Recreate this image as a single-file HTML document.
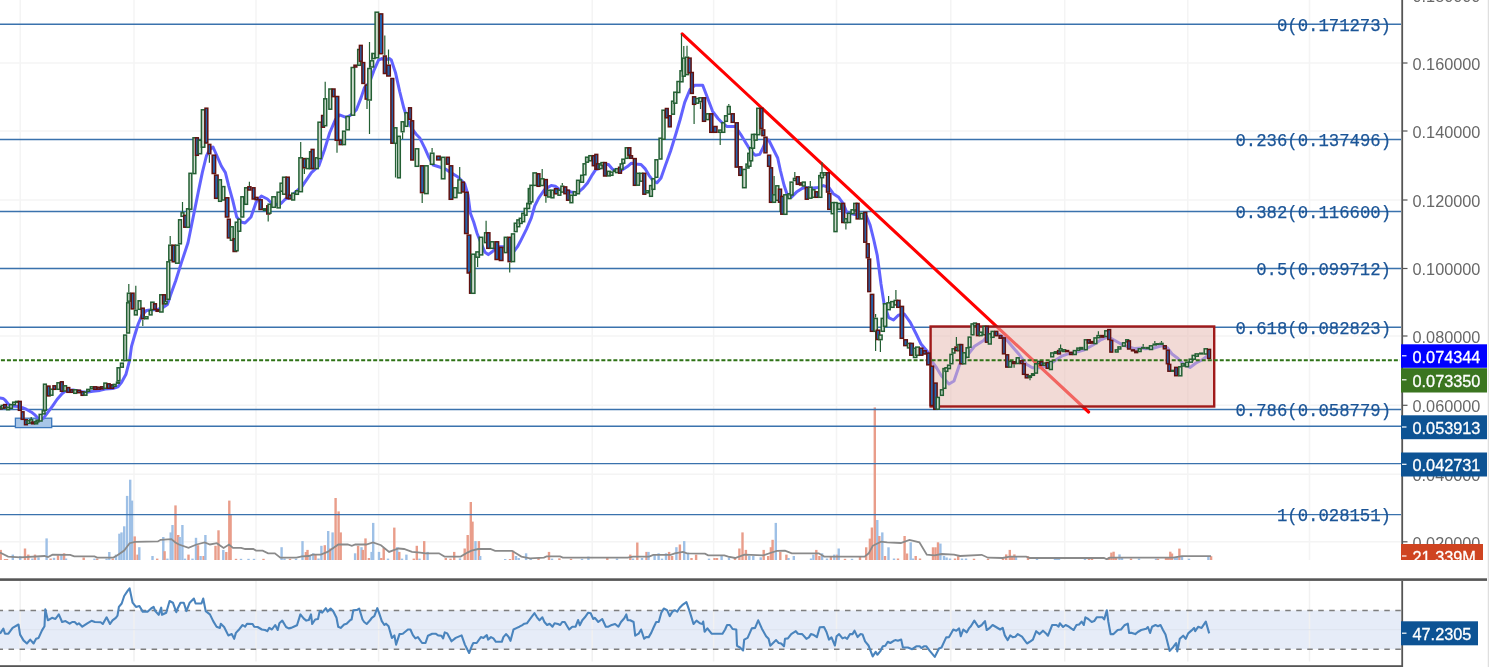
<!DOCTYPE html><html><head><meta charset="utf-8"><title>Chart</title><style>
html,body{margin:0;padding:0;background:#fff;width:1489px;height:667px;overflow:hidden}
svg{display:block;will-change:transform}
.ax{font-family:"Liberation Sans",sans-serif;font-size:16.3px;fill:#686868}
.lb{font-family:"Liberation Sans",sans-serif;font-size:16.3px;fill:#fff;stroke:#fff;stroke-width:0.3px}
.fb{font-family:"Liberation Mono",monospace;font-size:19px;fill:#1b5597;stroke:#1b5597;stroke-width:0.25px}
</style></head><body>
<svg width="1489" height="667" viewBox="0 0 1489 667">
<defs><clipPath id="mp"><rect x="0" y="0" width="1401" height="560"/></clipPath><clipPath id="rp"><rect x="0" y="581" width="1401" height="82"/></clipPath></defs>
<rect width="1489" height="667" fill="#fff"/>
<g clip-path="url(#mp)">
<line x1="20.2" y1="0" x2="20.2" y2="560" stroke="#f4f4f4" stroke-width="1.5"/>
<line x1="134" y1="0" x2="134" y2="560" stroke="#f4f4f4" stroke-width="1.5"/>
<line x1="256" y1="0" x2="256" y2="560" stroke="#f4f4f4" stroke-width="1.5"/>
<line x1="378.6" y1="0" x2="378.6" y2="560" stroke="#f4f4f4" stroke-width="1.5"/>
<line x1="592.2" y1="0" x2="592.2" y2="560" stroke="#f4f4f4" stroke-width="1.5"/>
<line x1="713.6" y1="0" x2="713.6" y2="560" stroke="#f4f4f4" stroke-width="1.5"/>
<line x1="836.5" y1="0" x2="836.5" y2="560" stroke="#f4f4f4" stroke-width="1.5"/>
<line x1="950.8" y1="0" x2="950.8" y2="560" stroke="#f4f4f4" stroke-width="1.5"/>
<line x1="1064.7" y1="0" x2="1064.7" y2="560" stroke="#f4f4f4" stroke-width="1.5"/>
<line x1="1187.8" y1="0" x2="1187.8" y2="560" stroke="#f4f4f4" stroke-width="1.5"/>
<line x1="1309.5" y1="0" x2="1309.5" y2="560" stroke="#f4f4f4" stroke-width="1.5"/>
<line x1="0" y1="63" x2="1401" y2="63" stroke="#f4f4f4" stroke-width="1.5"/>
<line x1="0" y1="131" x2="1401" y2="131" stroke="#f4f4f4" stroke-width="1.5"/>
<line x1="0" y1="200" x2="1401" y2="200" stroke="#f4f4f4" stroke-width="1.5"/>
<line x1="0" y1="268.5" x2="1401" y2="268.5" stroke="#f4f4f4" stroke-width="1.5"/>
<line x1="0" y1="336" x2="1401" y2="336" stroke="#f4f4f4" stroke-width="1.5"/>
<line x1="0" y1="405.3" x2="1401" y2="405.3" stroke="#f4f4f4" stroke-width="1.5"/>
<line x1="0" y1="474.3" x2="1401" y2="474.3" stroke="#f4f4f4" stroke-width="1.5"/>
<line x1="0" y1="541.8" x2="1401" y2="541.8" stroke="#f4f4f4" stroke-width="1.5"/>
<rect x="-0.5" y="549.9" width="2.4" height="10.1" fill="#e99d8a"/>
<rect x="3.8" y="559" width="2.4" height="1" fill="#e99d8a"/>
<rect x="5.8" y="559" width="2.4" height="1" fill="#e99d8a"/>
<rect x="11.6" y="554.6" width="2.4" height="5.4" fill="#9ec0e6"/>
<rect x="19" y="556" width="2.4" height="4" fill="#9ec0e6"/>
<rect x="23.8" y="548.5" width="2.4" height="11.5" fill="#e99d8a"/>
<rect x="27.1" y="554.6" width="2.4" height="5.4" fill="#e99d8a"/>
<rect x="31.2" y="558.5" width="2.4" height="1.5" fill="#9ec0e6"/>
<rect x="33.8" y="554.6" width="2.4" height="5.4" fill="#e99d8a"/>
<rect x="37.3" y="557.3" width="2.4" height="2.7" fill="#9ec0e6"/>
<rect x="45.4" y="538.4" width="2.4" height="21.6" fill="#9ec0e6"/>
<rect x="49.4" y="558.5" width="2.4" height="1.5" fill="#e99d8a"/>
<rect x="52.8" y="557.8" width="2.4" height="2.2" fill="#9ec0e6"/>
<rect x="56.8" y="555.3" width="2.4" height="4.7" fill="#e99d8a"/>
<rect x="60.2" y="554.6" width="2.4" height="5.4" fill="#9ec0e6"/>
<rect x="62.9" y="553.3" width="2.4" height="6.7" fill="#e99d8a"/>
<rect x="64.8" y="558.5" width="2.4" height="1.5" fill="#9ec0e6"/>
<rect x="82.5" y="557.5" width="2.4" height="2.5" fill="#e99d8a"/>
<rect x="93.3" y="558.6" width="2.4" height="1.4" fill="#9ec0e6"/>
<rect x="96" y="558.6" width="2.4" height="1.4" fill="#e99d8a"/>
<rect x="105.4" y="558.6" width="2.4" height="1.4" fill="#9ec0e6"/>
<rect x="108.1" y="552" width="2.4" height="8" fill="#9ec0e6"/>
<rect x="111.5" y="558.6" width="2.4" height="1.4" fill="#e99d8a"/>
<rect x="114.8" y="554.6" width="2.4" height="5.4" fill="#9ec0e6"/>
<rect x="118.2" y="533.7" width="2.4" height="26.3" fill="#9ec0e6"/>
<rect x="120.3" y="532.4" width="2.4" height="27.6" fill="#9ec0e6"/>
<rect x="123" y="526.3" width="2.4" height="33.7" fill="#9ec0e6"/>
<rect x="125.9" y="495.9" width="2.4" height="64.1" fill="#9ec0e6"/>
<rect x="129" y="479.7" width="2.4" height="80.3" fill="#9ec0e6"/>
<rect x="130.8" y="500.6" width="2.4" height="59.4" fill="#9ec0e6"/>
<rect x="133.5" y="536.4" width="2.4" height="23.6" fill="#e99d8a"/>
<rect x="136.4" y="554.6" width="2.4" height="5.4" fill="#e99d8a"/>
<rect x="138.1" y="547.2" width="2.4" height="12.8" fill="#9ec0e6"/>
<rect x="151.3" y="556" width="2.4" height="4" fill="#9ec0e6"/>
<rect x="156" y="558.6" width="2.4" height="1.4" fill="#e99d8a"/>
<rect x="162.1" y="537" width="2.4" height="23" fill="#9ec0e6"/>
<rect x="163.4" y="551.2" width="2.4" height="8.8" fill="#e99d8a"/>
<rect x="166.2" y="558.6" width="2.4" height="1.4" fill="#9ec0e6"/>
<rect x="169.5" y="532.4" width="2.4" height="27.6" fill="#9ec0e6"/>
<rect x="171.3" y="525" width="2.4" height="35" fill="#9ec0e6"/>
<rect x="174.3" y="505.4" width="2.4" height="54.6" fill="#e99d8a"/>
<rect x="177" y="535" width="2.4" height="25" fill="#e99d8a"/>
<rect x="178.5" y="537" width="2.4" height="23" fill="#9ec0e6"/>
<rect x="181.2" y="525" width="2.4" height="35" fill="#9ec0e6"/>
<rect x="183.8" y="558.6" width="2.4" height="1.4" fill="#9ec0e6"/>
<rect x="187.3" y="554.6" width="2.4" height="5.4" fill="#e99d8a"/>
<rect x="191.3" y="558.6" width="2.4" height="1.4" fill="#9ec0e6"/>
<rect x="194.8" y="537.8" width="2.4" height="22.2" fill="#9ec0e6"/>
<rect x="196.8" y="545.2" width="2.4" height="14.8" fill="#e99d8a"/>
<rect x="199.4" y="556" width="2.4" height="4" fill="#9ec0e6"/>
<rect x="202.4" y="556" width="2.4" height="4" fill="#e99d8a"/>
<rect x="204.2" y="535" width="2.4" height="25" fill="#9ec0e6"/>
<rect x="214.3" y="545.8" width="2.4" height="14.2" fill="#e99d8a"/>
<rect x="217.3" y="530.3" width="2.4" height="29.7" fill="#e99d8a"/>
<rect x="222.1" y="549.9" width="2.4" height="10.1" fill="#9ec0e6"/>
<rect x="225.1" y="552" width="2.4" height="8" fill="#e99d8a"/>
<rect x="228.1" y="500.6" width="2.4" height="59.4" fill="#e99d8a"/>
<rect x="229.4" y="514.1" width="2.4" height="45.9" fill="#e99d8a"/>
<rect x="234.8" y="558.8" width="2.4" height="1.2" fill="#e99d8a"/>
<rect x="239.8" y="558.8" width="2.4" height="1.2" fill="#9ec0e6"/>
<rect x="247.3" y="558.8" width="2.4" height="1.2" fill="#9ec0e6"/>
<rect x="252.8" y="558.8" width="2.4" height="1.2" fill="#9ec0e6"/>
<rect x="262.3" y="558.8" width="2.4" height="1.2" fill="#e99d8a"/>
<rect x="280.4" y="547.2" width="2.4" height="12.8" fill="#9ec0e6"/>
<rect x="283.3" y="558.5" width="2.4" height="1.5" fill="#9ec0e6"/>
<rect x="288.8" y="558.8" width="2.4" height="1.2" fill="#e99d8a"/>
<rect x="294.8" y="558.8" width="2.4" height="1.2" fill="#9ec0e6"/>
<rect x="301.3" y="541.1" width="2.4" height="18.9" fill="#9ec0e6"/>
<rect x="304.7" y="552" width="2.4" height="8" fill="#e99d8a"/>
<rect x="306.3" y="549.9" width="2.4" height="10.1" fill="#e99d8a"/>
<rect x="308.8" y="556" width="2.4" height="4" fill="#9ec0e6"/>
<rect x="312.1" y="553.3" width="2.4" height="6.7" fill="#9ec0e6"/>
<rect x="314.3" y="554.6" width="2.4" height="5.4" fill="#e99d8a"/>
<rect x="317.3" y="558.5" width="2.4" height="1.5" fill="#9ec0e6"/>
<rect x="320.2" y="545.8" width="2.4" height="14.2" fill="#9ec0e6"/>
<rect x="323.6" y="545.2" width="2.4" height="14.8" fill="#e99d8a"/>
<rect x="327" y="531" width="2.4" height="29" fill="#9ec0e6"/>
<rect x="329" y="548.5" width="2.4" height="11.5" fill="#e99d8a"/>
<rect x="331.4" y="532.4" width="2.4" height="27.6" fill="#9ec0e6"/>
<rect x="334.4" y="498" width="2.4" height="62" fill="#e99d8a"/>
<rect x="337.4" y="511.4" width="2.4" height="48.6" fill="#e99d8a"/>
<rect x="339.5" y="532.4" width="2.4" height="27.6" fill="#e99d8a"/>
<rect x="353.9" y="553.3" width="2.4" height="6.7" fill="#9ec0e6"/>
<rect x="356.9" y="545.8" width="2.4" height="14.2" fill="#e99d8a"/>
<rect x="360.3" y="547.2" width="2.4" height="12.8" fill="#9ec0e6"/>
<rect x="361.6" y="549.9" width="2.4" height="10.1" fill="#e99d8a"/>
<rect x="364.3" y="538.4" width="2.4" height="21.6" fill="#e99d8a"/>
<rect x="367.7" y="558" width="2.4" height="2" fill="#e99d8a"/>
<rect x="370.4" y="551.9" width="2.4" height="8.1" fill="#9ec0e6"/>
<rect x="372" y="522.9" width="2.4" height="37.1" fill="#9ec0e6"/>
<rect x="377.8" y="551.9" width="2.4" height="8.1" fill="#9ec0e6"/>
<rect x="380.1" y="558" width="2.4" height="2" fill="#e99d8a"/>
<rect x="382.5" y="547.9" width="2.4" height="12.1" fill="#e99d8a"/>
<rect x="386.8" y="558.6" width="2.4" height="1.4" fill="#9ec0e6"/>
<rect x="393.1" y="527.6" width="2.4" height="32.4" fill="#e99d8a"/>
<rect x="396" y="547.2" width="2.4" height="12.8" fill="#9ec0e6"/>
<rect x="398.1" y="551.9" width="2.4" height="8.1" fill="#e99d8a"/>
<rect x="400.8" y="558.6" width="2.4" height="1.4" fill="#9ec0e6"/>
<rect x="405.2" y="554.6" width="2.4" height="5.4" fill="#9ec0e6"/>
<rect x="412.6" y="558.6" width="2.4" height="1.4" fill="#e99d8a"/>
<rect x="415.6" y="545.8" width="2.4" height="14.2" fill="#e99d8a"/>
<rect x="418.3" y="558.6" width="2.4" height="1.4" fill="#9ec0e6"/>
<rect x="423" y="541.1" width="2.4" height="18.9" fill="#e99d8a"/>
<rect x="426.4" y="551.9" width="2.4" height="8.1" fill="#9ec0e6"/>
<rect x="444.6" y="558" width="2.4" height="2" fill="#e99d8a"/>
<rect x="449.3" y="558.6" width="2.4" height="1.4" fill="#e99d8a"/>
<rect x="453" y="551.9" width="2.4" height="8.1" fill="#e99d8a"/>
<rect x="458.8" y="558.3" width="2.4" height="1.7" fill="#9ec0e6"/>
<rect x="463.5" y="548.5" width="2.4" height="11.5" fill="#e99d8a"/>
<rect x="466.5" y="535" width="2.4" height="25" fill="#e99d8a"/>
<rect x="469.6" y="502" width="2.4" height="58" fill="#e99d8a"/>
<rect x="471.3" y="521.6" width="2.4" height="38.4" fill="#e99d8a"/>
<rect x="474.3" y="541.1" width="2.4" height="18.9" fill="#9ec0e6"/>
<rect x="477.7" y="541.1" width="2.4" height="18.9" fill="#e99d8a"/>
<rect x="479" y="556" width="2.4" height="4" fill="#9ec0e6"/>
<rect x="504" y="559" width="2.4" height="1" fill="#9ec0e6"/>
<rect x="508.8" y="559" width="2.4" height="1" fill="#e99d8a"/>
<rect x="511.8" y="550.6" width="2.4" height="9.4" fill="#e99d8a"/>
<rect x="514.8" y="556" width="2.4" height="4" fill="#9ec0e6"/>
<rect x="517.5" y="558" width="2.4" height="2" fill="#9ec0e6"/>
<rect x="524.9" y="553.3" width="2.4" height="6.7" fill="#9ec0e6"/>
<rect x="529.5" y="558.6" width="2.4" height="1.4" fill="#9ec0e6"/>
<rect x="537.3" y="558" width="2.4" height="2" fill="#e99d8a"/>
<rect x="547.8" y="551.9" width="2.4" height="8.1" fill="#e99d8a"/>
<rect x="550.8" y="558.6" width="2.4" height="1.4" fill="#9ec0e6"/>
<rect x="558.2" y="558.3" width="2.4" height="1.7" fill="#e99d8a"/>
<rect x="569.8" y="558.8" width="2.4" height="1.2" fill="#e99d8a"/>
<rect x="580.8" y="558.8" width="2.4" height="1.2" fill="#9ec0e6"/>
<rect x="587.2" y="556.6" width="2.4" height="3.4" fill="#9ec0e6"/>
<rect x="606.1" y="558" width="2.4" height="2" fill="#e99d8a"/>
<rect x="615.8" y="558.5" width="2.4" height="1.5" fill="#9ec0e6"/>
<rect x="629.1" y="554.6" width="2.4" height="5.4" fill="#e99d8a"/>
<rect x="631.8" y="558.5" width="2.4" height="1.5" fill="#9ec0e6"/>
<rect x="636.1" y="542.5" width="2.4" height="17.5" fill="#e99d8a"/>
<rect x="640.8" y="558" width="2.4" height="2" fill="#9ec0e6"/>
<rect x="645.3" y="551.9" width="2.4" height="8.1" fill="#e99d8a"/>
<rect x="647.3" y="551.9" width="2.4" height="8.1" fill="#9ec0e6"/>
<rect x="653.4" y="554.6" width="2.4" height="5.4" fill="#9ec0e6"/>
<rect x="657.4" y="553.3" width="2.4" height="6.7" fill="#9ec0e6"/>
<rect x="660.8" y="558.6" width="2.4" height="1.4" fill="#9ec0e6"/>
<rect x="664.8" y="553.3" width="2.4" height="6.7" fill="#9ec0e6"/>
<rect x="667.9" y="551.9" width="2.4" height="8.1" fill="#e99d8a"/>
<rect x="670.9" y="556" width="2.4" height="4" fill="#e99d8a"/>
<rect x="675.2" y="547.2" width="2.4" height="12.8" fill="#9ec0e6"/>
<rect x="678.7" y="544.5" width="2.4" height="15.5" fill="#e99d8a"/>
<rect x="683" y="541.1" width="2.4" height="18.9" fill="#9ec0e6"/>
<rect x="686.8" y="552.6" width="2.4" height="7.4" fill="#9ec0e6"/>
<rect x="690.3" y="558" width="2.4" height="2" fill="#e99d8a"/>
<rect x="694.9" y="554.6" width="2.4" height="5.4" fill="#e99d8a"/>
<rect x="707.8" y="558.6" width="2.4" height="1.4" fill="#9ec0e6"/>
<rect x="713.3" y="558" width="2.4" height="2" fill="#e99d8a"/>
<rect x="715.8" y="558" width="2.4" height="2" fill="#e99d8a"/>
<rect x="720.4" y="556" width="2.4" height="4" fill="#9ec0e6"/>
<rect x="727.8" y="557.3" width="2.4" height="2.7" fill="#9ec0e6"/>
<rect x="733.8" y="557.3" width="2.4" height="2.7" fill="#e99d8a"/>
<rect x="738.2" y="548.5" width="2.4" height="11.5" fill="#e99d8a"/>
<rect x="741.3" y="532.4" width="2.4" height="27.6" fill="#e99d8a"/>
<rect x="744.7" y="549.9" width="2.4" height="10.1" fill="#e99d8a"/>
<rect x="748.1" y="556" width="2.4" height="4" fill="#9ec0e6"/>
<rect x="752.1" y="556" width="2.4" height="4" fill="#9ec0e6"/>
<rect x="759.5" y="557.3" width="2.4" height="2.7" fill="#9ec0e6"/>
<rect x="762.5" y="549.9" width="2.4" height="10.1" fill="#e99d8a"/>
<rect x="767" y="556" width="2.4" height="4" fill="#e99d8a"/>
<rect x="769.7" y="547.2" width="2.4" height="12.8" fill="#e99d8a"/>
<rect x="771.4" y="539.8" width="2.4" height="20.2" fill="#e99d8a"/>
<rect x="774.6" y="522.9" width="2.4" height="37.1" fill="#9ec0e6"/>
<rect x="779.1" y="551.9" width="2.4" height="8.1" fill="#e99d8a"/>
<rect x="785.2" y="554.6" width="2.4" height="5.4" fill="#e99d8a"/>
<rect x="787.3" y="558" width="2.4" height="2" fill="#9ec0e6"/>
<rect x="792.6" y="556" width="2.4" height="4" fill="#9ec0e6"/>
<rect x="809.8" y="558.5" width="2.4" height="1.5" fill="#9ec0e6"/>
<rect x="812.2" y="554.6" width="2.4" height="5.4" fill="#9ec0e6"/>
<rect x="815.1" y="549.9" width="2.4" height="10.1" fill="#e99d8a"/>
<rect x="818.2" y="556" width="2.4" height="4" fill="#e99d8a"/>
<rect x="820.9" y="553.3" width="2.4" height="6.7" fill="#9ec0e6"/>
<rect x="825.8" y="558.5" width="2.4" height="1.5" fill="#9ec0e6"/>
<rect x="829.7" y="556" width="2.4" height="4" fill="#e99d8a"/>
<rect x="833.1" y="554.6" width="2.4" height="5.4" fill="#9ec0e6"/>
<rect x="836.2" y="554.6" width="2.4" height="5.4" fill="#e99d8a"/>
<rect x="837.5" y="548.5" width="2.4" height="11.5" fill="#9ec0e6"/>
<rect x="843.8" y="558.8" width="2.4" height="1.2" fill="#e99d8a"/>
<rect x="850.8" y="558.8" width="2.4" height="1.2" fill="#9ec0e6"/>
<rect x="858.8" y="556" width="2.4" height="4" fill="#e99d8a"/>
<rect x="865" y="547.3" width="2.4" height="12.7" fill="#e99d8a"/>
<rect x="868.7" y="538.6" width="2.4" height="21.4" fill="#e99d8a"/>
<rect x="870.7" y="527.5" width="2.4" height="32.5" fill="#e99d8a"/>
<rect x="873.6" y="407.4" width="2.4" height="152.6" fill="#e99d8a"/>
<rect x="876.1" y="520" width="2.4" height="40" fill="#9ec0e6"/>
<rect x="878.1" y="536" width="2.4" height="24" fill="#e99d8a"/>
<rect x="881.1" y="532.4" width="2.4" height="27.6" fill="#9ec0e6"/>
<rect x="883.8" y="556" width="2.4" height="4" fill="#e99d8a"/>
<rect x="887.3" y="547.3" width="2.4" height="12.7" fill="#9ec0e6"/>
<rect x="892.8" y="558.5" width="2.4" height="1.5" fill="#9ec0e6"/>
<rect x="896.8" y="558.5" width="2.4" height="1.5" fill="#e99d8a"/>
<rect x="903.4" y="536" width="2.4" height="24" fill="#e99d8a"/>
<rect x="905.8" y="553.5" width="2.4" height="6.5" fill="#e99d8a"/>
<rect x="909.5" y="542.3" width="2.4" height="17.7" fill="#9ec0e6"/>
<rect x="911.8" y="558.5" width="2.4" height="1.5" fill="#9ec0e6"/>
<rect x="914.5" y="556" width="2.4" height="4" fill="#e99d8a"/>
<rect x="918.8" y="558.5" width="2.4" height="1.5" fill="#e99d8a"/>
<rect x="931.8" y="547.3" width="2.4" height="12.7" fill="#e99d8a"/>
<rect x="934.3" y="547.3" width="2.4" height="12.7" fill="#e99d8a"/>
<rect x="936.8" y="542.3" width="2.4" height="17.7" fill="#e99d8a"/>
<rect x="939.2" y="543.6" width="2.4" height="16.4" fill="#9ec0e6"/>
<rect x="942.8" y="556" width="2.4" height="4" fill="#9ec0e6"/>
<rect x="945.4" y="557.5" width="2.4" height="2.5" fill="#9ec0e6"/>
<rect x="948.8" y="558.5" width="2.4" height="1.5" fill="#9ec0e6"/>
<rect x="953.8" y="558.5" width="2.4" height="1.5" fill="#e99d8a"/>
<rect x="957" y="556.2" width="2.4" height="3.8" fill="#e99d8a"/>
<rect x="960.8" y="558.5" width="2.4" height="1.5" fill="#9ec0e6"/>
<rect x="964.8" y="558.5" width="2.4" height="1.5" fill="#9ec0e6"/>
<rect x="972.8" y="558.7" width="2.4" height="1.3" fill="#e99d8a"/>
<rect x="986.8" y="558.7" width="2.4" height="1.3" fill="#e99d8a"/>
<rect x="1001.8" y="558.5" width="2.4" height="1.5" fill="#e99d8a"/>
<rect x="1005" y="554.4" width="2.4" height="5.6" fill="#e99d8a"/>
<rect x="1008.6" y="549.9" width="2.4" height="10.1" fill="#e99d8a"/>
<rect x="1010.8" y="556" width="2.4" height="4" fill="#e99d8a"/>
<rect x="1013.2" y="554.4" width="2.4" height="5.6" fill="#e99d8a"/>
<rect x="1014.8" y="556.5" width="2.4" height="3.5" fill="#9ec0e6"/>
<rect x="1026.8" y="556.2" width="2.4" height="3.8" fill="#e99d8a"/>
<rect x="1035.8" y="558.7" width="2.4" height="1.3" fill="#9ec0e6"/>
<rect x="1053.8" y="558" width="2.4" height="2" fill="#9ec0e6"/>
<rect x="1055.8" y="557.5" width="2.4" height="2.5" fill="#9ec0e6"/>
<rect x="1057.8" y="558" width="2.4" height="2" fill="#9ec0e6"/>
<rect x="1083.8" y="558.7" width="2.4" height="1.3" fill="#9ec0e6"/>
<rect x="1087.8" y="558.7" width="2.4" height="1.3" fill="#e99d8a"/>
<rect x="1090.8" y="558.5" width="2.4" height="1.5" fill="#e99d8a"/>
<rect x="1107.8" y="557" width="2.4" height="3" fill="#e99d8a"/>
<rect x="1110.2" y="552.6" width="2.4" height="7.4" fill="#e99d8a"/>
<rect x="1112.4" y="551.7" width="2.4" height="8.3" fill="#e99d8a"/>
<rect x="1114.8" y="557" width="2.4" height="3" fill="#e99d8a"/>
<rect x="1118.3" y="554.4" width="2.4" height="5.6" fill="#9ec0e6"/>
<rect x="1120.8" y="557.5" width="2.4" height="2.5" fill="#9ec0e6"/>
<rect x="1129.8" y="558.5" width="2.4" height="1.5" fill="#e99d8a"/>
<rect x="1137.8" y="558.5" width="2.4" height="1.5" fill="#9ec0e6"/>
<rect x="1154.8" y="558.7" width="2.4" height="1.3" fill="#9ec0e6"/>
<rect x="1156.8" y="558.7" width="2.4" height="1.3" fill="#e99d8a"/>
<rect x="1164.8" y="558" width="2.4" height="2" fill="#e99d8a"/>
<rect x="1166.8" y="557.5" width="2.4" height="2.5" fill="#e99d8a"/>
<rect x="1169.1" y="551.7" width="2.4" height="8.3" fill="#e99d8a"/>
<rect x="1170.8" y="553.5" width="2.4" height="6.5" fill="#e99d8a"/>
<rect x="1173.8" y="557.5" width="2.4" height="2.5" fill="#9ec0e6"/>
<rect x="1175.8" y="557" width="2.4" height="3" fill="#9ec0e6"/>
<rect x="1178.2" y="548.6" width="2.4" height="11.4" fill="#e99d8a"/>
<rect x="1180.8" y="557" width="2.4" height="3" fill="#9ec0e6"/>
<rect x="1187.8" y="558.7" width="2.4" height="1.3" fill="#9ec0e6"/>
<rect x="1207.2" y="556.2" width="2.4" height="3.8" fill="#9ec0e6"/>
<rect x="1209.9" y="556.2" width="2.4" height="3.8" fill="#e99d8a"/>
<polyline points="0,552.6 8.1,556.6 20.2,557.3 44.5,556 48,557 52.6,554.6 70.2,554.9 74.2,556.4 94.5,556.4 97.2,557.6 113.4,557.6 117.4,555.3 124.2,550.6 129.6,543.2 135,541.8 157.9,541.4 160.6,539.8 171.4,539.1 175.4,542.5 179,544.5 188.5,547.9 196.6,544.5 204.7,542.5 210,544.5 216.8,543.2 223.6,547.9 229,544.5 233,547.9 241.1,547.9 245.2,549 253.3,549 256,550.6 262.7,550.6 268.1,553.3 274.9,553.3 280.3,557.6 296.5,557.6 301.9,556.4 308.6,556 312.6,554.6 320.8,554.6 327.5,551.9 331.5,549.2 338.3,544.5 347.7,544.5 351.8,545.8 355.4,544.5 366.2,544.5 373,542.5 381,545.2 389.1,551.9 394.5,549.9 398.6,548.5 404,549 412,551.9 420.2,552.6 425.6,553.3 439,553.3 444.5,556.6 460.7,556.6 467.4,552.6 471.5,550.6 478.2,549 490.4,549 495.1,550.8 512,550.8 521.4,556.6 530,558.4 543.9,557.6 546.6,556.4 560.1,556.4 562.8,557.6 627.6,557.6 633,556.6 649.2,556.6 653.2,554.9 670.7,554.9 674.8,553.3 682.9,551.9 687,553.3 705,553.7 708.1,555.3 724.3,555.3 728.3,556.6 735.1,558 744.5,554.6 763.4,555.3 770.2,553 776.9,550.8 785,550.6 791.8,553.3 818.8,553.3 824.2,556.6 864.6,556.6 868.7,553.3 872.7,545.8 881,541.6 887.2,542.3 900.8,543 909.5,539.9 919.4,542.3 926.8,554.7 934.3,555.4 941.7,554 954,554.7 960,556 981.7,554.8 988,557.7 1002.6,558 1009.8,556.6 1026.2,556.6 1029.8,558 1104,558 1106.8,559.3 1109.6,557.7 1173,557.7 1182,556.2 1211,556.2" fill="none" stroke="#8a8a8a" stroke-width="1.8"/>
<line x1="0" y1="24.3" x2="1401" y2="24.3" stroke="#3a72ad" stroke-width="1.4"/>
<line x1="0" y1="139.5" x2="1401" y2="139.5" stroke="#3a72ad" stroke-width="1.4"/>
<line x1="0" y1="211.5" x2="1401" y2="211.5" stroke="#3a72ad" stroke-width="1.4"/>
<line x1="0" y1="268.5" x2="1401" y2="268.5" stroke="#3a72ad" stroke-width="1.4"/>
<line x1="0" y1="327.2" x2="1401" y2="327.2" stroke="#3a72ad" stroke-width="1.4"/>
<line x1="0" y1="409.5" x2="1401" y2="409.5" stroke="#3a72ad" stroke-width="1.4"/>
<line x1="0" y1="426.3" x2="1401" y2="426.3" stroke="#3a72ad" stroke-width="1.4"/>
<line x1="0" y1="463.6" x2="1401" y2="463.6" stroke="#3a72ad" stroke-width="1.4"/>
<line x1="0" y1="514.6" x2="1401" y2="514.6" stroke="#3a72ad" stroke-width="1.4"/>
<rect x="15.4" y="418.2" width="36.3" height="9.4" fill="#a8c6e8" stroke="#3d78bd" stroke-width="1.3"/>
<polyline points="0,398 3,398.4 5.2,400.2 8.2,404 11.2,405.9 15,406.2 18.7,406.6 22.5,407.7 26.2,409.2 31.5,412.2 35.2,415.2 38.2,418.2 40.5,419.7 43.5,418.2 48,412.2 52.5,406.2 57,399.5 62.2,393.5 66,390.5 73,390 82,391.8 86.5,392.2 92.8,391.3 100,390.4 105.4,389 112.6,388.6 118,386.8 121.6,382.3 126,374.2 129.7,359.8 131.5,346.4 134.5,336 138.2,324 142,315 146.5,310.4 151.7,309.7 157,309.7 163,307.5 167.4,304.5 170.4,295.5 175.7,280.8 181.4,262.6 188,242.8 193,218 198.2,192.4 202.3,172.6 206.4,156 209.7,149.5 213,147 217,156 221.3,166 225.4,172.6 228.7,185.8 232.8,200.7 236.7,217 241,222 245,223 251,217 256.2,202 261.4,196 267.4,199 273.4,205 281,203.5 285.4,199 290,197.5 293.3,194 302.4,185.8 311.4,172.6 318.8,166 324.6,149.5 329.6,133 335.3,119.8 339.5,114.9 346,117.3 350,115.7 356.3,110 361.2,97.4 364.5,87.5 369.5,82.5 374.4,69.3 378.5,60.2 381.8,58.6 385.1,60.2 389.3,58.5 391.3,60 395.5,72.6 399.7,91.5 403.9,108.3 408,121 412.3,129.3 416.4,134.5 419.6,137.7 424.8,148.2 429,157.6 433.2,165 439.5,167 445.8,169.2 452,173.4 458,177 464.7,183.7 468,195 470.3,213 473.7,222 477,233.2 481.6,244.4 485,252.3 488.3,254.6 492.8,251.2 498.4,246.7 504,246.7 508.5,249 514.2,251.2 517.5,246.7 519.9,242.3 526.5,229.1 531.4,217.6 534.7,206 538.8,197.8 544.6,189.5 551.2,185.4 555.3,186.2 559.4,189.5 566,190.3 571,192 577.6,192.8 582.5,188.7 587.5,182.9 592.4,174.6 595.7,169.7 599,168.6 603,164.5 608.5,164.5 612.5,169.3 616.6,170.6 622,170 627.4,166.6 631.4,163.2 635.5,163.9 641,164.5 645,168.6 649,175.3 653,180.7 657,182.8 661,178 665.2,165.9 670.6,151 676,133.5 680,120 684.7,102.3 690,89.7 694.6,85.3 702.7,85.3 707.2,97 712.6,111.3 718,118.5 723.3,124 727,126.6 735.4,126.5 740.8,134.6 746.2,143.6 750.7,150.8 755.2,155.3 759.7,154.4 763.3,147.2 766,140 768.7,140 773.2,149 777.7,158 780.4,170.5 784,185 787.6,195.7 791.2,197.5 796.5,192.1 802,188.5 805.4,187.4 810.8,188.3 818,187.4 823.4,185.6 828.8,187.4 833.3,193.7 838.7,197.3 843.2,203.6 846.8,212.6 854,214.4 861.2,214.4 866.5,216.2 870.1,225.1 873.7,239.5 877.3,255.7 879.2,270 881,284 884,303.2 888.7,317.6 893.5,320 898.3,315.2 904.3,314 910.3,322.4 916.3,334.3 921,344 927,351 931.6,361 936.7,368 941.5,376 949,384 954,381 959.6,364.5 968,354.5 974.5,346.3 983.6,340.5 987.7,335.6 994.3,333 1000,335 1006,339 1012,346.2 1019.2,354.6 1026.4,364.2 1032.4,367.8 1039.6,367.8 1048,365.4 1055,360.6 1062.4,355.8 1069.5,353.4 1075,352.5 1084.6,349.8 1093,345 1100.2,340.2 1107.4,337.2 1112.2,339 1120.6,343.8 1127.8,346.8 1135,348.6 1142,348 1145,348.7 1154,348 1161.5,345.7 1167.5,348 1172,354 1178,358.5 1184,364.5 1190,367.5 1196,363 1202,360 1208,355.5" fill="none" stroke="#6262ff" stroke-width="3" stroke-linejoin="round" stroke-linecap="round"/>
<line x1="682.2" y1="33.9" x2="1088.6" y2="412" stroke="#ff0000" stroke-width="3.1" stroke-linecap="round"/>
<rect x="930.6" y="326.5" width="283.6" height="80" fill="rgba(231,186,179,0.54)" stroke="#a01a1a" stroke-width="2.4"/>
<line x1="0" y1="360.2" x2="1400" y2="360.2" stroke="#2e7216" stroke-width="2" stroke-dasharray="4,2.004" stroke-dashoffset="5.064"/>
<rect x="-0.8" y="406.8" width="2.8" height="2.1" fill="#2464b0" stroke="#621210" stroke-width="1.5"/>
<rect x="1.2" y="405.4" width="2.8" height="2.8" fill="#cfdccf" stroke="#235f33" stroke-width="1.5"/>
<rect x="3.6" y="404.6" width="2.8" height="3.4" fill="#2464b0" stroke="#621210" stroke-width="1.5"/>
<rect x="6.7" y="407.2" width="2.8" height="2.5" fill="#cfdccf" stroke="#235f33" stroke-width="1.5"/>
<rect x="9.6" y="404.6" width="2.8" height="3.7" fill="#cfdccf" stroke="#235f33" stroke-width="1.5"/>
<rect x="12.7" y="402.2" width="2.8" height="2.5" fill="#cfdccf" stroke="#235f33" stroke-width="1.5"/>
<rect x="15.6" y="401.4" width="2.8" height="0.8" fill="#cfdccf" stroke="#235f33" stroke-width="1.5"/>
<rect x="18.4" y="401.4" width="2.8" height="8.9" fill="#2464b0" stroke="#621210" stroke-width="1.5"/>
<rect x="21.2" y="411.8" width="2.8" height="7.5" fill="#2464b0" stroke="#621210" stroke-width="1.5"/>
<rect x="24.5" y="419.8" width="2.8" height="4.9" fill="#2464b0" stroke="#621210" stroke-width="1.5"/>
<rect x="27.1" y="420.8" width="2.8" height="2.5" fill="#cfdccf" stroke="#235f33" stroke-width="1.5"/>
<line x1="31.2" y1="417" x2="31.2" y2="419" stroke="#235f33" stroke-width="1.2"/>
<rect x="29.8" y="419.8" width="2.8" height="3.1" fill="#cfdccf" stroke="#235f33" stroke-width="1.5"/>
<rect x="31.6" y="422.1" width="2.8" height="1.7" fill="#2464b0" stroke="#621210" stroke-width="1.5"/>
<rect x="34.8" y="421.8" width="2.8" height="2" fill="#cfdccf" stroke="#235f33" stroke-width="1.5"/>
<rect x="36.1" y="420.2" width="2.8" height="1.7" fill="#cfdccf" stroke="#235f33" stroke-width="1.5"/>
<rect x="39.2" y="414.4" width="2.8" height="6.6" fill="#cfdccf" stroke="#235f33" stroke-width="1.5"/>
<rect x="42.2" y="410.8" width="2.8" height="3.1" fill="#cfdccf" stroke="#235f33" stroke-width="1.5"/>
<rect x="43.5" y="384.2" width="2.8" height="26" fill="#cfdccf" stroke="#235f33" stroke-width="1.5"/>
<rect x="47.2" y="386.1" width="2.8" height="9.8" fill="#2464b0" stroke="#621210" stroke-width="1.5"/>
<rect x="50.1" y="389.2" width="2.8" height="6" fill="#cfdccf" stroke="#235f33" stroke-width="1.5"/>
<rect x="53" y="385.8" width="2.8" height="3.5" fill="#2464b0" stroke="#621210" stroke-width="1.5"/>
<rect x="57" y="382.8" width="2.8" height="6.5" fill="#cfdccf" stroke="#235f33" stroke-width="1.5"/>
<rect x="60.4" y="381.8" width="2.8" height="9.5" fill="#2464b0" stroke="#621210" stroke-width="1.5"/>
<rect x="63.7" y="385.8" width="2.8" height="5.2" fill="#cfdccf" stroke="#235f33" stroke-width="1.5"/>
<rect x="66.9" y="387.6" width="2.8" height="4.7" fill="#2464b0" stroke="#621210" stroke-width="1.5"/>
<rect x="70.3" y="389.8" width="2.8" height="2.5" fill="#2464b0" stroke="#621210" stroke-width="1.5"/>
<rect x="73.8" y="389.8" width="2.8" height="3.5" fill="#cfdccf" stroke="#235f33" stroke-width="1.5"/>
<rect x="77.6" y="390.2" width="2.8" height="2.5" fill="#2464b0" stroke="#621210" stroke-width="1.5"/>
<rect x="81.1" y="391.8" width="2.8" height="3.5" fill="#2464b0" stroke="#621210" stroke-width="1.5"/>
<rect x="84.1" y="392.2" width="2.8" height="3" fill="#cfdccf" stroke="#235f33" stroke-width="1.5"/>
<rect x="86.8" y="389.4" width="2.8" height="1.9" fill="#cfdccf" stroke="#235f33" stroke-width="1.5"/>
<rect x="90.3" y="386.8" width="2.8" height="2" fill="#cfdccf" stroke="#235f33" stroke-width="1.5"/>
<rect x="93.8" y="386.8" width="2.8" height="2.5" fill="#2464b0" stroke="#621210" stroke-width="1.5"/>
<rect x="97.3" y="387.2" width="2.8" height="2" fill="#2464b0" stroke="#621210" stroke-width="1.5"/>
<rect x="100.8" y="386.8" width="2.8" height="2" fill="#2464b0" stroke="#621210" stroke-width="1.5"/>
<rect x="103.9" y="383.1" width="2.8" height="5.2" fill="#cfdccf" stroke="#235f33" stroke-width="1.5"/>
<rect x="107.3" y="383.8" width="2.8" height="4.5" fill="#2464b0" stroke="#621210" stroke-width="1.5"/>
<rect x="110.8" y="384.8" width="2.8" height="3.5" fill="#2464b0" stroke="#621210" stroke-width="1.5"/>
<rect x="113.3" y="384.4" width="2.8" height="1.9" fill="#cfdccf" stroke="#235f33" stroke-width="1.5"/>
<rect x="116.5" y="382.1" width="2.8" height="1.1" fill="#cfdccf" stroke="#235f33" stroke-width="1.5"/>
<rect x="117.1" y="367.8" width="2.8" height="12.9" fill="#cfdccf" stroke="#235f33" stroke-width="1.5"/>
<rect x="120.5" y="363.2" width="2.8" height="4" fill="#cfdccf" stroke="#235f33" stroke-width="1.5"/>
<rect x="123.7" y="335.1" width="2.8" height="25.5" fill="#cfdccf" stroke="#235f33" stroke-width="1.5"/>
<rect x="126.7" y="302.8" width="2.8" height="30.2" fill="#cfdccf" stroke="#235f33" stroke-width="1.5"/>
<line x1="128.8" y1="284" x2="128.8" y2="292.5" stroke="#235f33" stroke-width="1.2"/>
<rect x="127.4" y="293.2" width="2.8" height="8" fill="#cfdccf" stroke="#235f33" stroke-width="1.5"/>
<rect x="131.2" y="293.2" width="2.8" height="15.7" fill="#2464b0" stroke="#621210" stroke-width="1.5"/>
<line x1="135.8" y1="285.7" x2="135.8" y2="309.7" stroke="#235f33" stroke-width="1.2"/>
<rect x="134.4" y="310.4" width="2.8" height="4.5" fill="#cfdccf" stroke="#235f33" stroke-width="1.5"/>
<rect x="138.1" y="300.8" width="2.8" height="8.5" fill="#cfdccf" stroke="#235f33" stroke-width="1.5"/>
<line x1="142.8" y1="319.4" x2="142.8" y2="326" stroke="#235f33" stroke-width="1.2"/>
<rect x="141.2" y="308.2" width="3" height="10.4" fill="#2464b0" stroke="#621210" stroke-width="1.5"/>
<rect x="144.8" y="316.8" width="3.2" height="1.9" fill="#cfdccf" stroke="#235f33" stroke-width="1.5"/>
<rect x="149.2" y="310.4" width="2.8" height="4.5" fill="#cfdccf" stroke="#235f33" stroke-width="1.5"/>
<rect x="150.8" y="302.2" width="3.2" height="7.4" fill="#cfdccf" stroke="#235f33" stroke-width="1.5"/>
<rect x="153.6" y="303.8" width="2.8" height="5.5" fill="#2464b0" stroke="#621210" stroke-width="1.5"/>
<rect x="156.1" y="309.8" width="2.8" height="1.5" fill="#2464b0" stroke="#621210" stroke-width="1.5"/>
<rect x="159.8" y="294.8" width="3.2" height="17.2" fill="#cfdccf" stroke="#235f33" stroke-width="1.5"/>
<rect x="162.6" y="294.8" width="2.8" height="9" fill="#2464b0" stroke="#621210" stroke-width="1.5"/>
<rect x="164.2" y="301.4" width="2.8" height="2.3" fill="#cfdccf" stroke="#235f33" stroke-width="1.5"/>
<rect x="166.9" y="261.8" width="2.8" height="37.5" fill="#cfdccf" stroke="#235f33" stroke-width="1.5"/>
<line x1="170.2" y1="236" x2="170.2" y2="244.5" stroke="#235f33" stroke-width="1.2"/>
<rect x="168.8" y="245.2" width="2.9" height="15" fill="#cfdccf" stroke="#235f33" stroke-width="1.5"/>
<rect x="172.2" y="245.2" width="2.8" height="16.6" fill="#2464b0" stroke="#621210" stroke-width="1.5"/>
<rect x="175.6" y="245.2" width="3.5" height="18" fill="#cfdccf" stroke="#235f33" stroke-width="1.5"/>
<rect x="178.6" y="219.8" width="2.8" height="24" fill="#cfdccf" stroke="#235f33" stroke-width="1.5"/>
<line x1="182.5" y1="202" x2="182.5" y2="212" stroke="#235f33" stroke-width="1.2"/>
<rect x="181.1" y="212.8" width="2.8" height="3.5" fill="#cfdccf" stroke="#235f33" stroke-width="1.5"/>
<rect x="183.8" y="215.4" width="2.8" height="11.8" fill="#2464b0" stroke="#621210" stroke-width="1.5"/>
<rect x="186.6" y="208.8" width="2.8" height="18.5" fill="#cfdccf" stroke="#235f33" stroke-width="1.5"/>
<rect x="189" y="173.3" width="2.8" height="35.9" fill="#cfdccf" stroke="#235f33" stroke-width="1.5"/>
<rect x="193" y="137.8" width="2.8" height="35.8" fill="#cfdccf" stroke="#235f33" stroke-width="1.5"/>
<rect x="195.5" y="137.8" width="2.8" height="17.5" fill="#2464b0" stroke="#621210" stroke-width="1.5"/>
<rect x="198.2" y="140.3" width="3.4" height="13.4" fill="#cfdccf" stroke="#235f33" stroke-width="1.5"/>
<rect x="201.4" y="109.8" width="3.4" height="37.4" fill="#cfdccf" stroke="#235f33" stroke-width="1.5"/>
<rect x="205" y="108.2" width="2.8" height="34.8" fill="#2464b0" stroke="#621210" stroke-width="1.5"/>
<line x1="209.4" y1="154.5" x2="209.4" y2="162.7" stroke="#235f33" stroke-width="1.2"/>
<rect x="208" y="144.4" width="2.8" height="9.3" fill="#2464b0" stroke="#621210" stroke-width="1.5"/>
<rect x="212.2" y="155.2" width="3.4" height="18.3" fill="#2464b0" stroke="#621210" stroke-width="1.5"/>
<rect x="214.6" y="175.1" width="3.5" height="23.2" fill="#2464b0" stroke="#621210" stroke-width="1.5"/>
<rect x="218.6" y="179.8" width="2.8" height="21.5" fill="#cfdccf" stroke="#235f33" stroke-width="1.5"/>
<rect x="222" y="186.6" width="2.8" height="13.4" fill="#cfdccf" stroke="#235f33" stroke-width="1.5"/>
<rect x="225.4" y="197.8" width="3.4" height="19.2" fill="#2464b0" stroke="#621210" stroke-width="1.5"/>
<rect x="227.4" y="219.2" width="2.8" height="18.7" fill="#2464b0" stroke="#621210" stroke-width="1.5"/>
<rect x="230.4" y="226.8" width="2.8" height="13.5" fill="#cfdccf" stroke="#235f33" stroke-width="1.5"/>
<rect x="233.1" y="238.8" width="3.5" height="12.7" fill="#2464b0" stroke="#621210" stroke-width="1.5"/>
<rect x="235.3" y="222.2" width="2.8" height="28.5" fill="#cfdccf" stroke="#235f33" stroke-width="1.5"/>
<rect x="237.9" y="219.2" width="2.8" height="12" fill="#cfdccf" stroke="#235f33" stroke-width="1.5"/>
<rect x="240.9" y="196.8" width="2.8" height="20.2" fill="#cfdccf" stroke="#235f33" stroke-width="1.5"/>
<rect x="244.7" y="187.8" width="2.8" height="16.5" fill="#cfdccf" stroke="#235f33" stroke-width="1.5"/>
<line x1="249.4" y1="181.7" x2="249.4" y2="186" stroke="#235f33" stroke-width="1.2"/>
<rect x="247.9" y="186.8" width="3" height="3.2" fill="#2464b0" stroke="#621210" stroke-width="1.5"/>
<rect x="252.2" y="187.8" width="2.8" height="11.2" fill="#2464b0" stroke="#621210" stroke-width="1.5"/>
<rect x="255.1" y="197.4" width="2.8" height="2.3" fill="#2464b0" stroke="#621210" stroke-width="1.5"/>
<rect x="259.1" y="199.8" width="3.1" height="9.7" fill="#2464b0" stroke="#621210" stroke-width="1.5"/>
<rect x="263.5" y="208.8" width="2.8" height="1.5" fill="#cfdccf" stroke="#235f33" stroke-width="1.5"/>
<line x1="268.2" y1="214.7" x2="268.2" y2="221.5" stroke="#235f33" stroke-width="1.2"/>
<rect x="266.8" y="205.8" width="2.9" height="8.2" fill="#2464b0" stroke="#621210" stroke-width="1.5"/>
<rect x="268.1" y="204.2" width="2.8" height="9" fill="#cfdccf" stroke="#235f33" stroke-width="1.5"/>
<rect x="271.9" y="196.8" width="3.5" height="10.5" fill="#cfdccf" stroke="#235f33" stroke-width="1.5"/>
<rect x="277.1" y="192.2" width="3.1" height="15.7" fill="#cfdccf" stroke="#235f33" stroke-width="1.5"/>
<rect x="280.1" y="183.2" width="3.1" height="8" fill="#cfdccf" stroke="#235f33" stroke-width="1.5"/>
<rect x="282.6" y="177.2" width="3.5" height="17" fill="#cfdccf" stroke="#235f33" stroke-width="1.5"/>
<rect x="286.1" y="177.2" width="3.1" height="21" fill="#2464b0" stroke="#621210" stroke-width="1.5"/>
<rect x="288.5" y="195.2" width="2.8" height="3.7" fill="#2464b0" stroke="#621210" stroke-width="1.5"/>
<rect x="291.8" y="193.2" width="2.8" height="6.8" fill="#cfdccf" stroke="#235f33" stroke-width="1.5"/>
<rect x="295.6" y="190.8" width="2.8" height="3.5" fill="#cfdccf" stroke="#235f33" stroke-width="1.5"/>
<line x1="300.7" y1="142" x2="300.7" y2="157" stroke="#235f33" stroke-width="1.2"/>
<rect x="298.9" y="157.8" width="3.5" height="33.9" fill="#cfdccf" stroke="#235f33" stroke-width="1.5"/>
<line x1="304.4" y1="168.5" x2="304.4" y2="174" stroke="#235f33" stroke-width="1.2"/>
<rect x="303.1" y="158.6" width="2.8" height="9.2" fill="#2464b0" stroke="#621210" stroke-width="1.5"/>
<rect x="306.3" y="158.6" width="2.8" height="10" fill="#cfdccf" stroke="#235f33" stroke-width="1.5"/>
<rect x="309.6" y="151.8" width="2.8" height="16.8" fill="#cfdccf" stroke="#235f33" stroke-width="1.5"/>
<rect x="311.2" y="149.4" width="2.8" height="19.1" fill="#2464b0" stroke="#621210" stroke-width="1.5"/>
<rect x="315.4" y="157.8" width="2.8" height="10.8" fill="#cfdccf" stroke="#235f33" stroke-width="1.5"/>
<rect x="318" y="122.2" width="3.3" height="36.4" fill="#cfdccf" stroke="#235f33" stroke-width="1.5"/>
<rect x="321.6" y="115.5" width="2.8" height="11.7" fill="#2464b0" stroke="#621210" stroke-width="1.5"/>
<line x1="325.2" y1="81.7" x2="325.2" y2="98" stroke="#235f33" stroke-width="1.2"/>
<rect x="323.8" y="98.8" width="2.9" height="26.9" fill="#cfdccf" stroke="#235f33" stroke-width="1.5"/>
<rect x="328.9" y="89" width="2.8" height="20.2" fill="#cfdccf" stroke="#235f33" stroke-width="1.5"/>
<rect x="332.2" y="89" width="2.8" height="7.6" fill="#2464b0" stroke="#621210" stroke-width="1.5"/>
<line x1="337" y1="141" x2="337" y2="152.8" stroke="#235f33" stroke-width="1.2"/>
<rect x="335.2" y="96.5" width="3.5" height="43.8" fill="#2464b0" stroke="#621210" stroke-width="1.5"/>
<rect x="339.2" y="140.3" width="2.8" height="4.3" fill="#2464b0" stroke="#621210" stroke-width="1.5"/>
<rect x="342.6" y="131.2" width="2.8" height="13.4" fill="#cfdccf" stroke="#235f33" stroke-width="1.5"/>
<rect x="346" y="116.5" width="3.3" height="13.3" fill="#cfdccf" stroke="#235f33" stroke-width="1.5"/>
<rect x="351.2" y="67.5" width="3.4" height="47.7" fill="#cfdccf" stroke="#235f33" stroke-width="1.5"/>
<rect x="354" y="65.2" width="2.8" height="1.8" fill="#2464b0" stroke="#621210" stroke-width="1.5"/>
<rect x="357.7" y="49.5" width="2.8" height="15.8" fill="#cfdccf" stroke="#235f33" stroke-width="1.5"/>
<rect x="359.4" y="45.4" width="2.8" height="15.8" fill="#2464b0" stroke="#621210" stroke-width="1.5"/>
<rect x="361.9" y="62.6" width="2.8" height="20.8" fill="#2464b0" stroke="#621210" stroke-width="1.5"/>
<line x1="367" y1="99.8" x2="367" y2="109" stroke="#235f33" stroke-width="1.2"/>
<rect x="365.2" y="85" width="3.5" height="14.1" fill="#2464b0" stroke="#621210" stroke-width="1.5"/>
<line x1="369.5" y1="42" x2="369.5" y2="67.7" stroke="#235f33" stroke-width="1.2"/>
<line x1="369.5" y1="100.7" x2="369.5" y2="134" stroke="#235f33" stroke-width="1.2"/>
<rect x="367.8" y="68.5" width="3.5" height="31.5" fill="#cfdccf" stroke="#235f33" stroke-width="1.5"/>
<line x1="371.9" y1="52.8" x2="371.9" y2="60" stroke="#235f33" stroke-width="1.2"/>
<rect x="370.2" y="60.8" width="3.4" height="6.2" fill="#cfdccf" stroke="#235f33" stroke-width="1.5"/>
<rect x="372.2" y="53.5" width="2.8" height="5.1" fill="#cfdccf" stroke="#235f33" stroke-width="1.5"/>
<rect x="375.1" y="12.2" width="3.5" height="45.6" fill="#cfdccf" stroke="#235f33" stroke-width="1.5"/>
<rect x="379.2" y="13.9" width="3.5" height="39.8" fill="#2464b0" stroke="#621210" stroke-width="1.5"/>
<line x1="384.8" y1="35.5" x2="384.8" y2="55.3" stroke="#235f33" stroke-width="1.2"/>
<rect x="383.4" y="56" width="2.8" height="17.5" fill="#2464b0" stroke="#621210" stroke-width="1.5"/>
<line x1="388.5" y1="49.5" x2="388.5" y2="64.4" stroke="#235f33" stroke-width="1.2"/>
<rect x="386.8" y="65.2" width="3.5" height="10.8" fill="#2464b0" stroke="#621210" stroke-width="1.5"/>
<rect x="390.9" y="78.5" width="2.8" height="64.7" fill="#2464b0" stroke="#621210" stroke-width="1.5"/>
<line x1="395.5" y1="144" x2="395.5" y2="177.5" stroke="#235f33" stroke-width="1.2"/>
<rect x="394.1" y="127.8" width="2.8" height="15.5" fill="#cfdccf" stroke="#235f33" stroke-width="1.5"/>
<rect x="397.5" y="136.3" width="2.8" height="41.5" fill="#cfdccf" stroke="#235f33" stroke-width="1.5"/>
<line x1="402.6" y1="132.4" x2="402.6" y2="139" stroke="#235f33" stroke-width="1.2"/>
<rect x="401.2" y="121.8" width="2.8" height="9.9" fill="#cfdccf" stroke="#235f33" stroke-width="1.5"/>
<rect x="405" y="112.8" width="2.8" height="13.5" fill="#cfdccf" stroke="#235f33" stroke-width="1.5"/>
<rect x="408.6" y="107.8" width="2.8" height="11.5" fill="#2464b0" stroke="#621210" stroke-width="1.5"/>
<rect x="410.8" y="120.8" width="2.8" height="39.2" fill="#2464b0" stroke="#621210" stroke-width="1.5"/>
<rect x="415.2" y="148.8" width="3.5" height="17.5" fill="#cfdccf" stroke="#235f33" stroke-width="1.5"/>
<line x1="422.2" y1="193.3" x2="422.2" y2="203" stroke="#235f33" stroke-width="1.2"/>
<rect x="420.5" y="165.8" width="3.5" height="26.8" fill="#2464b0" stroke="#621210" stroke-width="1.5"/>
<rect x="424.6" y="165.8" width="3.5" height="27.8" fill="#cfdccf" stroke="#235f33" stroke-width="1.5"/>
<line x1="432.1" y1="148" x2="432.1" y2="152.4" stroke="#235f33" stroke-width="1.2"/>
<rect x="430.4" y="153.2" width="3.5" height="11.1" fill="#cfdccf" stroke="#235f33" stroke-width="1.5"/>
<rect x="436.7" y="156.2" width="3.5" height="3.7" fill="#2464b0" stroke="#621210" stroke-width="1.5"/>
<rect x="441.4" y="157.3" width="3.5" height="21.5" fill="#cfdccf" stroke="#235f33" stroke-width="1.5"/>
<rect x="446.5" y="157.3" width="2.8" height="6.9" fill="#2464b0" stroke="#621210" stroke-width="1.5"/>
<rect x="449.2" y="165.8" width="3.5" height="33.5" fill="#2464b0" stroke="#621210" stroke-width="1.5"/>
<rect x="453.4" y="187.8" width="3.5" height="9.8" fill="#cfdccf" stroke="#235f33" stroke-width="1.5"/>
<line x1="459.7" y1="166.9" x2="459.7" y2="179.2" stroke="#235f33" stroke-width="1.2"/>
<rect x="457.9" y="179.9" width="3.5" height="13.1" fill="#cfdccf" stroke="#235f33" stroke-width="1.5"/>
<rect x="461.6" y="182.2" width="2.8" height="9.7" fill="#2464b0" stroke="#621210" stroke-width="1.5"/>
<rect x="464.6" y="192.3" width="3.5" height="41.2" fill="#2464b0" stroke="#621210" stroke-width="1.5"/>
<rect x="467.2" y="235.1" width="3.5" height="37.9" fill="#2464b0" stroke="#621210" stroke-width="1.5"/>
<rect x="469.6" y="272.1" width="3.5" height="21.1" fill="#2464b0" stroke="#621210" stroke-width="1.5"/>
<rect x="471.4" y="254.2" width="3.5" height="39.1" fill="#cfdccf" stroke="#235f33" stroke-width="1.5"/>
<line x1="477.6" y1="258" x2="477.6" y2="267" stroke="#235f33" stroke-width="1.2"/>
<rect x="475.9" y="251.9" width="3.5" height="5.3" fill="#cfdccf" stroke="#235f33" stroke-width="1.5"/>
<rect x="479.2" y="237.3" width="3.5" height="17.6" fill="#cfdccf" stroke="#235f33" stroke-width="1.5"/>
<line x1="486.1" y1="220.8" x2="486.1" y2="232" stroke="#235f33" stroke-width="1.2"/>
<rect x="484.6" y="232.8" width="3" height="9.8" fill="#cfdccf" stroke="#235f33" stroke-width="1.5"/>
<rect x="486.8" y="232.8" width="3.1" height="15.5" fill="#2464b0" stroke="#621210" stroke-width="1.5"/>
<rect x="490.4" y="241.8" width="3.5" height="6.5" fill="#cfdccf" stroke="#235f33" stroke-width="1.5"/>
<rect x="495.1" y="241.8" width="3.5" height="17.7" fill="#2464b0" stroke="#621210" stroke-width="1.5"/>
<rect x="499.4" y="247.4" width="3.5" height="13.1" fill="#2464b0" stroke="#621210" stroke-width="1.5"/>
<rect x="504.3" y="237.3" width="2.8" height="15.3" fill="#cfdccf" stroke="#235f33" stroke-width="1.5"/>
<line x1="509.7" y1="262.4" x2="509.7" y2="272.5" stroke="#235f33" stroke-width="1.2"/>
<rect x="508.1" y="237.3" width="3.1" height="24.3" fill="#2464b0" stroke="#621210" stroke-width="1.5"/>
<rect x="511.5" y="233.9" width="3" height="27.7" fill="#cfdccf" stroke="#235f33" stroke-width="1.5"/>
<rect x="514.3" y="223.2" width="2.8" height="8.4" fill="#cfdccf" stroke="#235f33" stroke-width="1.5"/>
<rect x="516.9" y="219.9" width="2.8" height="6.8" fill="#cfdccf" stroke="#235f33" stroke-width="1.5"/>
<rect x="519.3" y="218.3" width="2.8" height="5.1" fill="#cfdccf" stroke="#235f33" stroke-width="1.5"/>
<rect x="521.8" y="213.3" width="2.8" height="8.4" fill="#cfdccf" stroke="#235f33" stroke-width="1.5"/>
<rect x="524.2" y="208.4" width="2.8" height="6.8" fill="#cfdccf" stroke="#235f33" stroke-width="1.5"/>
<rect x="526.8" y="203.4" width="2.8" height="5.1" fill="#cfdccf" stroke="#235f33" stroke-width="1.5"/>
<rect x="528.3" y="188.6" width="2.8" height="15.1" fill="#cfdccf" stroke="#235f33" stroke-width="1.5"/>
<rect x="530" y="185.3" width="2.8" height="16.6" fill="#cfdccf" stroke="#235f33" stroke-width="1.5"/>
<rect x="533" y="172.9" width="3.4" height="12.5" fill="#cfdccf" stroke="#235f33" stroke-width="1.5"/>
<rect x="537.1" y="173.8" width="2.8" height="12.5" fill="#2464b0" stroke="#621210" stroke-width="1.5"/>
<line x1="542.2" y1="168.9" x2="542.2" y2="178" stroke="#235f33" stroke-width="1.2"/>
<rect x="540.5" y="178.8" width="3.4" height="6.7" fill="#cfdccf" stroke="#235f33" stroke-width="1.5"/>
<line x1="545.9" y1="196.1" x2="545.9" y2="202.7" stroke="#235f33" stroke-width="1.2"/>
<rect x="544.5" y="179.6" width="2.8" height="15.8" fill="#2464b0" stroke="#621210" stroke-width="1.5"/>
<rect x="547.7" y="190.2" width="2.8" height="6.8" fill="#cfdccf" stroke="#235f33" stroke-width="1.5"/>
<rect x="551.1" y="190.2" width="2.8" height="7.6" fill="#cfdccf" stroke="#235f33" stroke-width="1.5"/>
<rect x="554.5" y="188.7" width="3.4" height="5.1" fill="#2464b0" stroke="#621210" stroke-width="1.5"/>
<rect x="558" y="190.2" width="2.8" height="5" fill="#cfdccf" stroke="#235f33" stroke-width="1.5"/>
<line x1="562.3" y1="183" x2="562.3" y2="185.4" stroke="#235f33" stroke-width="1.2"/>
<rect x="560.9" y="186.2" width="2.8" height="5.9" fill="#cfdccf" stroke="#235f33" stroke-width="1.5"/>
<rect x="563.9" y="186.9" width="2.8" height="6.8" fill="#2464b0" stroke="#621210" stroke-width="1.5"/>
<rect x="566.6" y="190.2" width="2.8" height="10" fill="#2464b0" stroke="#621210" stroke-width="1.5"/>
<rect x="570" y="195.2" width="2.8" height="7.5" fill="#cfdccf" stroke="#235f33" stroke-width="1.5"/>
<rect x="573.3" y="191.8" width="2.8" height="3.5" fill="#cfdccf" stroke="#235f33" stroke-width="1.5"/>
<rect x="576.6" y="180.3" width="2.8" height="13.4" fill="#cfdccf" stroke="#235f33" stroke-width="1.5"/>
<rect x="580.7" y="175.3" width="2.8" height="6.9" fill="#cfdccf" stroke="#235f33" stroke-width="1.5"/>
<rect x="583.1" y="163.8" width="2.8" height="11" fill="#cfdccf" stroke="#235f33" stroke-width="1.5"/>
<rect x="585.6" y="157.2" width="2.8" height="5" fill="#cfdccf" stroke="#235f33" stroke-width="1.5"/>
<rect x="588.9" y="155.7" width="2.8" height="5.1" fill="#cfdccf" stroke="#235f33" stroke-width="1.5"/>
<rect x="592.3" y="155.7" width="2.8" height="10" fill="#2464b0" stroke="#621210" stroke-width="1.5"/>
<rect x="594.9" y="154.4" width="2.8" height="14.8" fill="#2464b0" stroke="#621210" stroke-width="1.5"/>
<rect x="596.6" y="163.8" width="2.8" height="5.5" fill="#2464b0" stroke="#621210" stroke-width="1.5"/>
<rect x="599.3" y="163.8" width="2.8" height="4.8" fill="#cfdccf" stroke="#235f33" stroke-width="1.5"/>
<rect x="601" y="162.6" width="2.8" height="2.6" fill="#cfdccf" stroke="#235f33" stroke-width="1.5"/>
<rect x="603.6" y="162.6" width="2.8" height="13.4" fill="#2464b0" stroke="#621210" stroke-width="1.5"/>
<rect x="607.4" y="171.3" width="2.8" height="4.6" fill="#cfdccf" stroke="#235f33" stroke-width="1.5"/>
<rect x="610.1" y="172.1" width="2.8" height="3.2" fill="#cfdccf" stroke="#235f33" stroke-width="1.5"/>
<rect x="613.5" y="170.1" width="2.8" height="1.2" fill="#cfdccf" stroke="#235f33" stroke-width="1.5"/>
<rect x="615.5" y="168.7" width="2.8" height="3.9" fill="#cfdccf" stroke="#235f33" stroke-width="1.5"/>
<rect x="618.6" y="167.3" width="2.8" height="5.9" fill="#2464b0" stroke="#621210" stroke-width="1.5"/>
<rect x="620.2" y="163.9" width="2.8" height="5.3" fill="#cfdccf" stroke="#235f33" stroke-width="1.5"/>
<rect x="621.9" y="159.2" width="2.8" height="4" fill="#cfdccf" stroke="#235f33" stroke-width="1.5"/>
<rect x="625.3" y="147.8" width="2.8" height="10.5" fill="#cfdccf" stroke="#235f33" stroke-width="1.5"/>
<rect x="628" y="147.8" width="2.8" height="7.3" fill="#2464b0" stroke="#621210" stroke-width="1.5"/>
<rect x="629.7" y="155.8" width="2.8" height="2.5" fill="#2464b0" stroke="#621210" stroke-width="1.5"/>
<rect x="633.4" y="158.6" width="2.8" height="26.7" fill="#2464b0" stroke="#621210" stroke-width="1.5"/>
<rect x="636.6" y="173.3" width="2.8" height="11.9" fill="#cfdccf" stroke="#235f33" stroke-width="1.5"/>
<rect x="639.9" y="173.3" width="2.8" height="7.9" fill="#cfdccf" stroke="#235f33" stroke-width="1.5"/>
<rect x="642.9" y="173.3" width="2.8" height="20.9" fill="#2464b0" stroke="#621210" stroke-width="1.5"/>
<rect x="645.9" y="190.8" width="2.8" height="2" fill="#cfdccf" stroke="#235f33" stroke-width="1.5"/>
<rect x="649.6" y="185.6" width="2.8" height="10.7" fill="#cfdccf" stroke="#235f33" stroke-width="1.5"/>
<rect x="652" y="178.8" width="2.8" height="10.5" fill="#cfdccf" stroke="#235f33" stroke-width="1.5"/>
<rect x="655" y="159.8" width="2.8" height="17.5" fill="#cfdccf" stroke="#235f33" stroke-width="1.5"/>
<rect x="659.1" y="138.2" width="2.8" height="20.8" fill="#cfdccf" stroke="#235f33" stroke-width="1.5"/>
<rect x="662" y="110.2" width="3" height="29" fill="#cfdccf" stroke="#235f33" stroke-width="1.5"/>
<rect x="665.4" y="108.5" width="2.8" height="9.3" fill="#2464b0" stroke="#621210" stroke-width="1.5"/>
<rect x="668.3" y="115.8" width="2.9" height="11" fill="#2464b0" stroke="#621210" stroke-width="1.5"/>
<rect x="671.6" y="101.2" width="2.8" height="13" fill="#cfdccf" stroke="#235f33" stroke-width="1.5"/>
<rect x="673.8" y="92.2" width="3" height="11" fill="#cfdccf" stroke="#235f33" stroke-width="1.5"/>
<rect x="677" y="81.5" width="2.8" height="11" fill="#cfdccf" stroke="#235f33" stroke-width="1.5"/>
<line x1="681.5" y1="34" x2="681.5" y2="70" stroke="#235f33" stroke-width="1.2"/>
<rect x="680" y="70.8" width="3" height="11" fill="#cfdccf" stroke="#235f33" stroke-width="1.5"/>
<line x1="683.8" y1="46" x2="683.8" y2="57.4" stroke="#235f33" stroke-width="1.2"/>
<rect x="682.4" y="58.1" width="2.8" height="18.1" fill="#cfdccf" stroke="#235f33" stroke-width="1.5"/>
<line x1="687" y1="45.7" x2="687" y2="56.5" stroke="#235f33" stroke-width="1.2"/>
<rect x="685.5" y="57.2" width="3" height="17.4" fill="#cfdccf" stroke="#235f33" stroke-width="1.5"/>
<rect x="688.1" y="58.1" width="3" height="14.7" fill="#2464b0" stroke="#621210" stroke-width="1.5"/>
<rect x="690.5" y="72.5" width="2.8" height="20.9" fill="#2464b0" stroke="#621210" stroke-width="1.5"/>
<line x1="694.1" y1="105" x2="694.1" y2="124" stroke="#235f33" stroke-width="1.2"/>
<rect x="692.6" y="96.8" width="3" height="7.5" fill="#2464b0" stroke="#621210" stroke-width="1.5"/>
<rect x="695.9" y="98.5" width="2.8" height="4.7" fill="#cfdccf" stroke="#235f33" stroke-width="1.5"/>
<line x1="700.5" y1="102.3" x2="700.5" y2="109" stroke="#235f33" stroke-width="1.2"/>
<rect x="699" y="97.8" width="3" height="3.8" fill="#cfdccf" stroke="#235f33" stroke-width="1.5"/>
<rect x="702.5" y="97.8" width="3" height="23.5" fill="#2464b0" stroke="#621210" stroke-width="1.5"/>
<rect x="706.1" y="113.8" width="3" height="5.8" fill="#cfdccf" stroke="#235f33" stroke-width="1.5"/>
<rect x="709.8" y="113.8" width="3" height="18.5" fill="#2464b0" stroke="#621210" stroke-width="1.5"/>
<rect x="713.5" y="126.5" width="3.5" height="5.8" fill="#2464b0" stroke="#621210" stroke-width="1.5"/>
<line x1="720.2" y1="133" x2="720.2" y2="145" stroke="#235f33" stroke-width="1.2"/>
<rect x="718.8" y="130.1" width="2.9" height="2.2" fill="#cfdccf" stroke="#235f33" stroke-width="1.5"/>
<rect x="721.9" y="122.8" width="2.8" height="9.5" fill="#cfdccf" stroke="#235f33" stroke-width="1.5"/>
<rect x="724.6" y="115.8" width="2.8" height="5.5" fill="#cfdccf" stroke="#235f33" stroke-width="1.5"/>
<line x1="728.8" y1="104" x2="728.8" y2="105.8" stroke="#235f33" stroke-width="1.2"/>
<rect x="727.4" y="106.5" width="2.8" height="7.7" fill="#cfdccf" stroke="#235f33" stroke-width="1.5"/>
<rect x="731.2" y="113.8" width="3" height="8.5" fill="#2464b0" stroke="#621210" stroke-width="1.5"/>
<rect x="735.2" y="122.8" width="3" height="44.3" fill="#2464b0" stroke="#621210" stroke-width="1.5"/>
<rect x="738.8" y="166.8" width="3.1" height="8.5" fill="#2464b0" stroke="#621210" stroke-width="1.5"/>
<rect x="742.6" y="169.4" width="3.5" height="18.3" fill="#cfdccf" stroke="#235f33" stroke-width="1.5"/>
<rect x="746" y="164.1" width="3" height="3.9" fill="#cfdccf" stroke="#235f33" stroke-width="1.5"/>
<rect x="747.8" y="153.3" width="3.1" height="12.9" fill="#cfdccf" stroke="#235f33" stroke-width="1.5"/>
<rect x="749.6" y="147.8" width="3" height="13" fill="#cfdccf" stroke="#235f33" stroke-width="1.5"/>
<rect x="751.5" y="134.4" width="3" height="13.8" fill="#cfdccf" stroke="#235f33" stroke-width="1.5"/>
<rect x="754.1" y="134.4" width="3" height="5.7" fill="#cfdccf" stroke="#235f33" stroke-width="1.5"/>
<rect x="756.8" y="108.3" width="3.1" height="26.4" fill="#cfdccf" stroke="#235f33" stroke-width="1.5"/>
<rect x="760.1" y="108.3" width="2.8" height="20.1" fill="#2464b0" stroke="#621210" stroke-width="1.5"/>
<rect x="761.9" y="129.9" width="2.8" height="5.7" fill="#2464b0" stroke="#621210" stroke-width="1.5"/>
<rect x="764" y="137.2" width="3" height="15.6" fill="#2464b0" stroke="#621210" stroke-width="1.5"/>
<rect x="767.6" y="155.2" width="3" height="11.1" fill="#2464b0" stroke="#621210" stroke-width="1.5"/>
<rect x="769.5" y="167.8" width="3" height="34.5" fill="#2464b0" stroke="#621210" stroke-width="1.5"/>
<line x1="774.1" y1="176" x2="774.1" y2="194" stroke="#235f33" stroke-width="1.2"/>
<rect x="772.7" y="194.8" width="2.8" height="7.5" fill="#cfdccf" stroke="#235f33" stroke-width="1.5"/>
<rect x="775.8" y="185.8" width="3" height="14.5" fill="#cfdccf" stroke="#235f33" stroke-width="1.5"/>
<line x1="780" y1="203" x2="780" y2="212" stroke="#235f33" stroke-width="1.2"/>
<rect x="778.5" y="189.2" width="3" height="13" fill="#2464b0" stroke="#621210" stroke-width="1.5"/>
<rect x="780.8" y="196.4" width="2.8" height="17.8" fill="#2464b0" stroke="#621210" stroke-width="1.5"/>
<rect x="783.8" y="194.8" width="3.1" height="19.5" fill="#cfdccf" stroke="#235f33" stroke-width="1.5"/>
<rect x="788" y="193.8" width="2.8" height="4.8" fill="#cfdccf" stroke="#235f33" stroke-width="1.5"/>
<rect x="790.1" y="182.1" width="2.9" height="12.9" fill="#cfdccf" stroke="#235f33" stroke-width="1.5"/>
<line x1="794.8" y1="172" x2="794.8" y2="177.7" stroke="#235f33" stroke-width="1.2"/>
<rect x="793.4" y="178.4" width="2.8" height="2.1" fill="#cfdccf" stroke="#235f33" stroke-width="1.5"/>
<rect x="796.3" y="176.8" width="2.9" height="7.5" fill="#2464b0" stroke="#621210" stroke-width="1.5"/>
<rect x="799.6" y="182.9" width="2.8" height="2.1" fill="#2464b0" stroke="#621210" stroke-width="1.5"/>
<rect x="802.4" y="182.1" width="2.8" height="3.9" fill="#cfdccf" stroke="#235f33" stroke-width="1.5"/>
<rect x="805.3" y="187.4" width="2.9" height="11.8" fill="#2464b0" stroke="#621210" stroke-width="1.5"/>
<line x1="810.3" y1="181" x2="810.3" y2="186.5" stroke="#235f33" stroke-width="1.2"/>
<rect x="808.8" y="187.2" width="3.1" height="11" fill="#cfdccf" stroke="#235f33" stroke-width="1.5"/>
<rect x="812.1" y="189.8" width="2.8" height="7.5" fill="#cfdccf" stroke="#235f33" stroke-width="1.5"/>
<rect x="815.1" y="191.8" width="3" height="5.5" fill="#2464b0" stroke="#621210" stroke-width="1.5"/>
<rect x="818.8" y="175.6" width="3" height="21.7" fill="#cfdccf" stroke="#235f33" stroke-width="1.5"/>
<line x1="822" y1="162.2" x2="822" y2="172" stroke="#235f33" stroke-width="1.2"/>
<rect x="820.5" y="172.8" width="3" height="4.9" fill="#cfdccf" stroke="#235f33" stroke-width="1.5"/>
<rect x="823.2" y="172.8" width="3" height="2.2" fill="#cfdccf" stroke="#235f33" stroke-width="1.5"/>
<rect x="826.5" y="172.8" width="2.8" height="19.3" fill="#2464b0" stroke="#621210" stroke-width="1.5"/>
<rect x="827.8" y="193.6" width="3" height="15.7" fill="#2464b0" stroke="#621210" stroke-width="1.5"/>
<rect x="831.3" y="202.6" width="2.9" height="11.1" fill="#cfdccf" stroke="#235f33" stroke-width="1.5"/>
<rect x="834" y="202.6" width="3" height="29" fill="#cfdccf" stroke="#235f33" stroke-width="1.5"/>
<rect x="837.6" y="203.4" width="3" height="5.8" fill="#cfdccf" stroke="#235f33" stroke-width="1.5"/>
<rect x="841.8" y="203.4" width="2.8" height="19.1" fill="#2464b0" stroke="#621210" stroke-width="1.5"/>
<line x1="845.9" y1="223.3" x2="845.9" y2="229.6" stroke="#235f33" stroke-width="1.2"/>
<rect x="844.5" y="218.8" width="2.8" height="3.8" fill="#cfdccf" stroke="#235f33" stroke-width="1.5"/>
<rect x="847.5" y="213.3" width="3" height="9.2" fill="#cfdccf" stroke="#235f33" stroke-width="1.5"/>
<rect x="851.1" y="209.8" width="3" height="3.9" fill="#cfdccf" stroke="#235f33" stroke-width="1.5"/>
<rect x="853.8" y="203.4" width="3.1" height="6.6" fill="#cfdccf" stroke="#235f33" stroke-width="1.5"/>
<rect x="856.2" y="203.4" width="2.8" height="15.5" fill="#2464b0" stroke="#621210" stroke-width="1.5"/>
<rect x="860.1" y="213.3" width="2.9" height="5.6" fill="#cfdccf" stroke="#235f33" stroke-width="1.5"/>
<rect x="863.8" y="212.4" width="2.9" height="29.8" fill="#2464b0" stroke="#621210" stroke-width="1.5"/>
<rect x="866.3" y="243.8" width="2.9" height="13.9" fill="#2464b0" stroke="#621210" stroke-width="1.5"/>
<rect x="867.8" y="259.1" width="2.8" height="32.5" fill="#2464b0" stroke="#621210" stroke-width="1.5"/>
<rect x="870.4" y="294.4" width="3.3" height="36.9" fill="#2464b0" stroke="#621210" stroke-width="1.5"/>
<line x1="875.6" y1="314" x2="875.6" y2="317.6" stroke="#235f33" stroke-width="1.2"/>
<line x1="875.6" y1="332" x2="875.6" y2="351" stroke="#235f33" stroke-width="1.2"/>
<rect x="874" y="318.4" width="3.3" height="12.9" fill="#cfdccf" stroke="#235f33" stroke-width="1.5"/>
<rect x="876.4" y="330.2" width="3.3" height="9.3" fill="#2464b0" stroke="#621210" stroke-width="1.5"/>
<line x1="880.4" y1="340.3" x2="880.4" y2="352" stroke="#235f33" stroke-width="1.2"/>
<rect x="878.8" y="335.1" width="3.3" height="4.5" fill="#cfdccf" stroke="#235f33" stroke-width="1.5"/>
<rect x="881.2" y="318.4" width="3.1" height="12.9" fill="#cfdccf" stroke="#235f33" stroke-width="1.5"/>
<rect x="883.5" y="303.8" width="3.2" height="22.5" fill="#cfdccf" stroke="#235f33" stroke-width="1.5"/>
<line x1="888.6" y1="296" x2="888.6" y2="302" stroke="#235f33" stroke-width="1.2"/>
<rect x="887" y="302.8" width="3.2" height="6.9" fill="#cfdccf" stroke="#235f33" stroke-width="1.5"/>
<rect x="890.8" y="301.6" width="3.2" height="5.7" fill="#cfdccf" stroke="#235f33" stroke-width="1.5"/>
<line x1="895.9" y1="290" x2="895.9" y2="299.6" stroke="#235f33" stroke-width="1.2"/>
<rect x="894.2" y="300.4" width="3.3" height="4.5" fill="#cfdccf" stroke="#235f33" stroke-width="1.5"/>
<rect x="896.8" y="300.4" width="3.2" height="6.9" fill="#2464b0" stroke="#621210" stroke-width="1.5"/>
<rect x="900.2" y="306.4" width="3.3" height="31.9" fill="#2464b0" stroke="#621210" stroke-width="1.5"/>
<rect x="903.8" y="339.8" width="3.5" height="5.8" fill="#2464b0" stroke="#621210" stroke-width="1.5"/>
<rect x="907.5" y="343.4" width="3.3" height="4.5" fill="#cfdccf" stroke="#235f33" stroke-width="1.5"/>
<rect x="909.8" y="343.4" width="3.5" height="11.8" fill="#2464b0" stroke="#621210" stroke-width="1.5"/>
<rect x="913.5" y="348.2" width="3.3" height="9.3" fill="#cfdccf" stroke="#235f33" stroke-width="1.5"/>
<rect x="915.8" y="347.1" width="3.5" height="8.2" fill="#cfdccf" stroke="#235f33" stroke-width="1.5"/>
<rect x="919.5" y="348.2" width="3.3" height="7" fill="#2464b0" stroke="#621210" stroke-width="1.5"/>
<rect x="923" y="350.8" width="3.2" height="3.2" fill="#2464b0" stroke="#621210" stroke-width="1.5"/>
<rect x="926.8" y="353.1" width="3.2" height="11.7" fill="#2464b0" stroke="#621210" stroke-width="1.5"/>
<rect x="930.2" y="366.2" width="3.3" height="39.3" fill="#2464b0" stroke="#621210" stroke-width="1.5"/>
<rect x="933.8" y="383.1" width="3.3" height="26.2" fill="#2464b0" stroke="#621210" stroke-width="1.5"/>
<rect x="936.2" y="397.4" width="3.1" height="11.8" fill="#cfdccf" stroke="#235f33" stroke-width="1.5"/>
<rect x="940.5" y="389.8" width="2.8" height="5.5" fill="#cfdccf" stroke="#235f33" stroke-width="1.5"/>
<rect x="943" y="368.6" width="2.8" height="19.7" fill="#cfdccf" stroke="#235f33" stroke-width="1.5"/>
<rect x="945" y="367.8" width="2.8" height="3.5" fill="#cfdccf" stroke="#235f33" stroke-width="1.5"/>
<rect x="947.6" y="365.2" width="2.8" height="3.4" fill="#cfdccf" stroke="#235f33" stroke-width="1.5"/>
<rect x="950" y="354.4" width="2.8" height="9.3" fill="#cfdccf" stroke="#235f33" stroke-width="1.5"/>
<rect x="952.1" y="348.8" width="2.8" height="4.2" fill="#cfdccf" stroke="#235f33" stroke-width="1.5"/>
<line x1="956.4" y1="337" x2="956.4" y2="346.3" stroke="#235f33" stroke-width="1.2"/>
<rect x="955" y="347.1" width="2.8" height="3.5" fill="#2464b0" stroke="#621210" stroke-width="1.5"/>
<rect x="957.9" y="344.6" width="2.8" height="6" fill="#cfdccf" stroke="#235f33" stroke-width="1.5"/>
<rect x="959.9" y="344.6" width="2.8" height="19.2" fill="#2464b0" stroke="#621210" stroke-width="1.5"/>
<rect x="962.8" y="352.8" width="2.8" height="11" fill="#cfdccf" stroke="#235f33" stroke-width="1.5"/>
<rect x="966.1" y="347.8" width="2.8" height="9.5" fill="#cfdccf" stroke="#235f33" stroke-width="1.5"/>
<rect x="968.2" y="337.1" width="2.8" height="10.1" fill="#cfdccf" stroke="#235f33" stroke-width="1.5"/>
<rect x="971.1" y="323.9" width="2.8" height="10.9" fill="#cfdccf" stroke="#235f33" stroke-width="1.5"/>
<rect x="973.6" y="323.1" width="2.8" height="2.6" fill="#cfdccf" stroke="#235f33" stroke-width="1.5"/>
<rect x="976.5" y="323.9" width="2.8" height="11.7" fill="#2464b0" stroke="#621210" stroke-width="1.5"/>
<rect x="979.3" y="332.2" width="2.8" height="3.4" fill="#cfdccf" stroke="#235f33" stroke-width="1.5"/>
<rect x="983" y="326.4" width="2.8" height="8.4" fill="#cfdccf" stroke="#235f33" stroke-width="1.5"/>
<rect x="985.5" y="326.4" width="2.8" height="15.8" fill="#2464b0" stroke="#621210" stroke-width="1.5"/>
<rect x="988.4" y="333.8" width="2.8" height="10.2" fill="#cfdccf" stroke="#235f33" stroke-width="1.5"/>
<rect x="991.2" y="331.4" width="2.8" height="5.9" fill="#cfdccf" stroke="#235f33" stroke-width="1.5"/>
<rect x="994.9" y="331.4" width="2.8" height="4.3" fill="#2464b0" stroke="#621210" stroke-width="1.5"/>
<rect x="999.1" y="335.6" width="2.8" height="2.6" fill="#2464b0" stroke="#621210" stroke-width="1.5"/>
<rect x="1002.5" y="337.9" width="2.8" height="15.9" fill="#2464b0" stroke="#621210" stroke-width="1.5"/>
<rect x="1005.8" y="354.8" width="2.8" height="12.3" fill="#2464b0" stroke="#621210" stroke-width="1.5"/>
<rect x="1008.8" y="361.4" width="2.8" height="5.7" fill="#cfdccf" stroke="#235f33" stroke-width="1.5"/>
<line x1="1014.1" y1="364.2" x2="1014.1" y2="367.8" stroke="#235f33" stroke-width="1.2"/>
<rect x="1012.7" y="361.8" width="2.8" height="1.7" fill="#2464b0" stroke="#621210" stroke-width="1.5"/>
<rect x="1016.3" y="357.8" width="2.8" height="5.7" fill="#cfdccf" stroke="#235f33" stroke-width="1.5"/>
<rect x="1020.2" y="360.8" width="2.8" height="2.7" fill="#2464b0" stroke="#621210" stroke-width="1.5"/>
<rect x="1022.5" y="363.8" width="2.8" height="10.5" fill="#2464b0" stroke="#621210" stroke-width="1.5"/>
<rect x="1025.3" y="374.6" width="2.8" height="3.2" fill="#2464b0" stroke="#621210" stroke-width="1.5"/>
<line x1="1030" y1="378" x2="1030" y2="380.3" stroke="#235f33" stroke-width="1.2"/>
<rect x="1028.6" y="375.8" width="2.8" height="1.5" fill="#cfdccf" stroke="#235f33" stroke-width="1.5"/>
<rect x="1031.6" y="373.8" width="2.8" height="1.5" fill="#cfdccf" stroke="#235f33" stroke-width="1.5"/>
<rect x="1034.6" y="363.8" width="2.8" height="9.3" fill="#cfdccf" stroke="#235f33" stroke-width="1.5"/>
<rect x="1037.6" y="361.4" width="2.8" height="2.1" fill="#cfdccf" stroke="#235f33" stroke-width="1.5"/>
<rect x="1040" y="361.8" width="2.8" height="3.5" fill="#2464b0" stroke="#621210" stroke-width="1.5"/>
<rect x="1043" y="363.1" width="2.8" height="2.1" fill="#cfdccf" stroke="#235f33" stroke-width="1.5"/>
<rect x="1046.2" y="362.6" width="2.8" height="5.7" fill="#2464b0" stroke="#621210" stroke-width="1.5"/>
<rect x="1049.5" y="361.4" width="2.8" height="8.1" fill="#cfdccf" stroke="#235f33" stroke-width="1.5"/>
<rect x="1050.8" y="352.9" width="2.8" height="3.9" fill="#cfdccf" stroke="#235f33" stroke-width="1.5"/>
<rect x="1054.4" y="351.8" width="2.8" height="1.5" fill="#cfdccf" stroke="#235f33" stroke-width="1.5"/>
<rect x="1057.6" y="350.6" width="2.8" height="3.3" fill="#2464b0" stroke="#621210" stroke-width="1.5"/>
<line x1="1060.6" y1="344.4" x2="1060.6" y2="348" stroke="#235f33" stroke-width="1.2"/>
<rect x="1059.2" y="348.8" width="2.8" height="2.1" fill="#cfdccf" stroke="#235f33" stroke-width="1.5"/>
<rect x="1062.8" y="349.8" width="2.8" height="1.7" fill="#cfdccf" stroke="#235f33" stroke-width="1.5"/>
<rect x="1065.8" y="350.6" width="2.8" height="0.9" fill="#2464b0" stroke="#621210" stroke-width="1.5"/>
<rect x="1069.6" y="352.4" width="2.8" height="2.1" fill="#2464b0" stroke="#621210" stroke-width="1.5"/>
<rect x="1073.4" y="350.6" width="2.8" height="3.9" fill="#cfdccf" stroke="#235f33" stroke-width="1.5"/>
<rect x="1076.9" y="348.1" width="2.8" height="2.1" fill="#cfdccf" stroke="#235f33" stroke-width="1.5"/>
<rect x="1079.9" y="347.6" width="2.8" height="1.5" fill="#cfdccf" stroke="#235f33" stroke-width="1.5"/>
<rect x="1084.4" y="339.8" width="2.8" height="9.9" fill="#cfdccf" stroke="#235f33" stroke-width="1.5"/>
<rect x="1087.4" y="339.8" width="2.8" height="3.3" fill="#2464b0" stroke="#621210" stroke-width="1.5"/>
<rect x="1090.4" y="341.6" width="2.8" height="1.5" fill="#2464b0" stroke="#621210" stroke-width="1.5"/>
<rect x="1094" y="337.9" width="2.8" height="5.7" fill="#cfdccf" stroke="#235f33" stroke-width="1.5"/>
<line x1="1098.4" y1="331.2" x2="1098.4" y2="334.8" stroke="#235f33" stroke-width="1.2"/>
<rect x="1097" y="335.6" width="2.8" height="2.1" fill="#cfdccf" stroke="#235f33" stroke-width="1.5"/>
<rect x="1100.9" y="335.6" width="2.8" height="1.5" fill="#2464b0" stroke="#621210" stroke-width="1.5"/>
<rect x="1104.8" y="330.8" width="2.8" height="5.7" fill="#cfdccf" stroke="#235f33" stroke-width="1.5"/>
<rect x="1107.8" y="329.6" width="2.8" height="9.9" fill="#2464b0" stroke="#621210" stroke-width="1.5"/>
<rect x="1109.9" y="340.4" width="2.8" height="11.7" fill="#2464b0" stroke="#621210" stroke-width="1.5"/>
<rect x="1115.3" y="349.9" width="2.8" height="2.1" fill="#cfdccf" stroke="#235f33" stroke-width="1.5"/>
<rect x="1118" y="346.9" width="2.8" height="2.1" fill="#cfdccf" stroke="#235f33" stroke-width="1.5"/>
<rect x="1122.5" y="342.8" width="2.8" height="3.3" fill="#cfdccf" stroke="#235f33" stroke-width="1.5"/>
<rect x="1125.8" y="339.8" width="2.8" height="2.1" fill="#cfdccf" stroke="#235f33" stroke-width="1.5"/>
<rect x="1127.6" y="340.9" width="2.8" height="8.1" fill="#2464b0" stroke="#621210" stroke-width="1.5"/>
<rect x="1131.5" y="349.9" width="2.8" height="0.9" fill="#2464b0" stroke="#621210" stroke-width="1.5"/>
<rect x="1134.8" y="351.1" width="2.8" height="1.5" fill="#2464b0" stroke="#621210" stroke-width="1.5"/>
<rect x="1138.3" y="348.8" width="2.8" height="2.7" fill="#cfdccf" stroke="#235f33" stroke-width="1.5"/>
<line x1="1143.2" y1="344" x2="1143.2" y2="346.8" stroke="#235f33" stroke-width="1.2"/>
<rect x="1141.8" y="347.6" width="2.8" height="0.5" fill="#cfdccf" stroke="#235f33" stroke-width="1.5"/>
<rect x="1146.1" y="347.6" width="2.8" height="0.9" fill="#cfdccf" stroke="#235f33" stroke-width="1.5"/>
<rect x="1149.5" y="345.8" width="3" height="3.7" fill="#cfdccf" stroke="#235f33" stroke-width="1.5"/>
<line x1="1154.8" y1="341" x2="1154.8" y2="343.5" stroke="#235f33" stroke-width="1.2"/>
<rect x="1153.2" y="344.2" width="3" height="0.7" fill="#cfdccf" stroke="#235f33" stroke-width="1.5"/>
<rect x="1156.1" y="343.8" width="2.8" height="0.5" fill="#cfdccf" stroke="#235f33" stroke-width="1.5"/>
<line x1="1161.5" y1="341" x2="1161.5" y2="342.7" stroke="#235f33" stroke-width="1.2"/>
<rect x="1160" y="343.4" width="3" height="0.8" fill="#cfdccf" stroke="#235f33" stroke-width="1.5"/>
<rect x="1163.4" y="345.8" width="2.8" height="3" fill="#2464b0" stroke="#621210" stroke-width="1.5"/>
<rect x="1166.4" y="350.2" width="2.8" height="13.5" fill="#2464b0" stroke="#621210" stroke-width="1.5"/>
<rect x="1167.9" y="364.4" width="2.8" height="6.8" fill="#2464b0" stroke="#621210" stroke-width="1.5"/>
<rect x="1171.7" y="370.4" width="2.8" height="0.8" fill="#cfdccf" stroke="#235f33" stroke-width="1.5"/>
<rect x="1174.7" y="367.4" width="2.8" height="8.3" fill="#2464b0" stroke="#621210" stroke-width="1.5"/>
<rect x="1178.8" y="366.8" width="3" height="9" fill="#cfdccf" stroke="#235f33" stroke-width="1.5"/>
<rect x="1181.4" y="363.8" width="2.8" height="2.2" fill="#cfdccf" stroke="#235f33" stroke-width="1.5"/>
<rect x="1185.5" y="362.2" width="3" height="4.5" fill="#cfdccf" stroke="#235f33" stroke-width="1.5"/>
<rect x="1189.2" y="359.2" width="3.1" height="3" fill="#cfdccf" stroke="#235f33" stroke-width="1.5"/>
<rect x="1192.2" y="355.4" width="3.1" height="3.8" fill="#cfdccf" stroke="#235f33" stroke-width="1.5"/>
<rect x="1195.2" y="353.9" width="3.1" height="2.3" fill="#cfdccf" stroke="#235f33" stroke-width="1.5"/>
<rect x="1199.8" y="353.2" width="2.9" height="0.7" fill="#cfdccf" stroke="#235f33" stroke-width="1.5"/>
<rect x="1204.2" y="348.8" width="3.1" height="5.2" fill="#cfdccf" stroke="#235f33" stroke-width="1.5"/>
<rect x="1207.7" y="349.4" width="2.8" height="9" fill="#2464b0" stroke="#621210" stroke-width="1.5"/>
<text class="fb" x="1276.9" y="30.9" textLength="114.1" lengthAdjust="spacingAndGlyphs">0(0.171273)</text>
<text class="fb" x="1235.5" y="146.1" textLength="155.5" lengthAdjust="spacingAndGlyphs">0.236(0.137496)</text>
<text class="fb" x="1235.5" y="218.1" textLength="155.5" lengthAdjust="spacingAndGlyphs">0.382(0.116600)</text>
<text class="fb" x="1256.2" y="275.1" textLength="134.8" lengthAdjust="spacingAndGlyphs">0.5(0.099712)</text>
<text class="fb" x="1235.5" y="333.8" textLength="155.5" lengthAdjust="spacingAndGlyphs">0.618(0.082823)</text>
<text class="fb" x="1235.5" y="416.1" textLength="155.5" lengthAdjust="spacingAndGlyphs">0.786(0.058779)</text>
<text class="fb" x="1276.9" y="521.2" textLength="114.1" lengthAdjust="spacingAndGlyphs">1(0.028151)</text>
</g>
<line x1="1402.2" y1="0" x2="1402.2" y2="560" stroke="#555" stroke-width="1.8"/>
<line x1="1402" y1="-4.8" x2="1407.5" y2="-4.8" stroke="#555" stroke-width="1.2"/>
<text class="ax" x="1412.5" y="2">0.180000</text>
<line x1="1402" y1="63" x2="1407.5" y2="63" stroke="#555" stroke-width="1.2"/>
<text class="ax" x="1412.5" y="69.8">0.160000</text>
<line x1="1402" y1="131" x2="1407.5" y2="131" stroke="#555" stroke-width="1.2"/>
<text class="ax" x="1412.5" y="137.8">0.140000</text>
<line x1="1402" y1="200" x2="1407.5" y2="200" stroke="#555" stroke-width="1.2"/>
<text class="ax" x="1412.5" y="206.8">0.120000</text>
<line x1="1402" y1="268.5" x2="1407.5" y2="268.5" stroke="#555" stroke-width="1.2"/>
<text class="ax" x="1412.5" y="275.3">0.100000</text>
<line x1="1402" y1="336" x2="1407.5" y2="336" stroke="#555" stroke-width="1.2"/>
<text class="ax" x="1412.5" y="342.8">0.080000</text>
<line x1="1402" y1="405.3" x2="1407.5" y2="405.3" stroke="#555" stroke-width="1.2"/>
<text class="ax" x="1412.5" y="412.1">0.060000</text>
<line x1="1402" y1="474.3" x2="1407.5" y2="474.3" stroke="#555" stroke-width="1.2"/>
<text class="ax" x="1412.5" y="481.1">0.040000</text>
<line x1="1402" y1="541.8" x2="1407.5" y2="541.8" stroke="#555" stroke-width="1.2"/>
<text class="ax" x="1412.5" y="548.6">0.020000</text>
<rect x="1401" y="344.3" width="86" height="23.5" fill="#0000ff"/>
<line x1="1402" y1="355.8" x2="1406.5" y2="355.8" stroke="#fff" stroke-width="1.2"/>
<text class="lb" x="1412.5" y="362.6">0.074344</text>
<rect x="1401" y="368.2" width="86" height="24.3" fill="#3b7520"/>
<line x1="1402" y1="379.8" x2="1406.5" y2="379.8" stroke="#fff" stroke-width="1.2"/>
<text class="lb" x="1412.5" y="386.6">0.073350</text>
<rect x="1401" y="415.3" width="86" height="23.9" fill="#0d5394"/>
<line x1="1402" y1="427" x2="1406.5" y2="427" stroke="#fff" stroke-width="1.2"/>
<text class="lb" x="1412.5" y="433.8">0.053913</text>
<rect x="1401" y="452.5" width="86" height="24" fill="#0d5394"/>
<line x1="1402" y1="464.3" x2="1406.5" y2="464.3" stroke="#fff" stroke-width="1.2"/>
<text class="lb" x="1412.5" y="471.1">0.042731</text>
<svg x="0" y="0" width="1489" height="560" overflow="hidden">
<rect x="1401" y="544" width="82" height="24" fill="#cf4421"/>
<line x1="1402" y1="556" x2="1406.5" y2="556" stroke="#fff" stroke-width="1.2"/>
<text class="lb" x="1412.5" y="562.8">21.339M</text>
</svg>
<rect x="0" y="578.3" width="1487" height="2.6" fill="#565656"/>
<g clip-path="url(#rp)">
<rect x="0" y="610.4" width="1401" height="38.8" fill="#e6ecf8"/>
<line x1="20.2" y1="581" x2="20.2" y2="661.5" stroke="#f1f1f1" stroke-width="1.5"/>
<line x1="134" y1="581" x2="134" y2="661.5" stroke="#f1f1f1" stroke-width="1.5"/>
<line x1="256" y1="581" x2="256" y2="661.5" stroke="#f1f1f1" stroke-width="1.5"/>
<line x1="378.6" y1="581" x2="378.6" y2="661.5" stroke="#f1f1f1" stroke-width="1.5"/>
<line x1="592.2" y1="581" x2="592.2" y2="661.5" stroke="#f1f1f1" stroke-width="1.5"/>
<line x1="713.6" y1="581" x2="713.6" y2="661.5" stroke="#f1f1f1" stroke-width="1.5"/>
<line x1="836.5" y1="581" x2="836.5" y2="661.5" stroke="#f1f1f1" stroke-width="1.5"/>
<line x1="950.8" y1="581" x2="950.8" y2="661.5" stroke="#f1f1f1" stroke-width="1.5"/>
<line x1="1064.7" y1="581" x2="1064.7" y2="661.5" stroke="#f1f1f1" stroke-width="1.5"/>
<line x1="1187.8" y1="581" x2="1187.8" y2="661.5" stroke="#f1f1f1" stroke-width="1.5"/>
<line x1="1309.5" y1="581" x2="1309.5" y2="661.5" stroke="#f1f1f1" stroke-width="1.5"/>
<line x1="0" y1="629.7" x2="1401" y2="629.7" stroke="#dde3ee" stroke-width="1"/>
<line x1="0" y1="610.4" x2="1401" y2="610.4" stroke="#7e7e7e" stroke-width="1.5" stroke-dasharray="5.5,5.506" stroke-dashoffset="2.47"/>
<line x1="0" y1="649.2" x2="1401" y2="649.2" stroke="#7e7e7e" stroke-width="1.5" stroke-dasharray="5.5,5.506" stroke-dashoffset="2.47"/>
<polyline points="0,633.7 3.4,628.7 5,633.7 8.4,633.7 12.6,627.9 18.5,624.5 20.1,634.6 23.5,640.4 26.9,643.5 30.2,639.6 33.6,643.5 36.1,638.8 38.6,637.9 42,630.4 44.5,626.2 45.3,609.4 47.9,620.3 52,617.8 55.4,619 58.8,614.4 62.1,622 65.5,621.1 69.7,623.7 72.2,622 74.7,622 77.2,624.5 78.9,623.3 82.3,626.7 87.3,623.3 91.5,620.8 94.9,622 100.7,622.3 102.8,624 106.6,617.3 110,624 112.5,620.3 115.8,617.8 117.5,615.6 118.9,606.9 121.7,603.5 124.2,596 127.6,590.9 129.6,588.4 132.6,602.7 136,606.9 139.4,606 142.7,611.6 147.8,611.6 151.1,608.5 153.6,606.9 155.3,611.1 158.7,614.8 161.2,607.7 162,614.8 166.2,612.7 169.6,601 172.9,602.7 176.3,612.2 178,607.7 180.5,602.7 183.8,602.7 186.4,611.1 189.7,602.7 193.9,598.5 195.6,603.5 201.5,603.5 203.2,598.5 205.7,611.1 209.9,614.4 213.2,621.1 216.6,626.7 219.9,627.9 220.8,623.7 224.1,627 228.3,635.4 231.7,634.1 234.2,638.8 235.9,632.9 239.3,629.2 242.6,625 245.1,626.7 246.8,624 247.5,623.7 252.6,624 254.2,626.7 257.6,627 261.8,629.5 265.1,630 267.3,631.2 269.3,627.9 271.9,629.5 275.2,625 277.7,630 279.4,623.3 282.3,620.6 286.1,627 288.7,628.4 291.2,627.9 293.7,626.7 297,625.3 300.4,614.4 303.8,618.6 306.3,620.6 308.8,620 311,614.4 312.2,624 315.2,619.5 318,619 319.7,611.1 322.2,612.7 325.9,608.2 327.6,611.6 330.6,608.5 333.1,611.1 336.5,617.8 338.2,626.7 340.7,627.9 344.1,624.5 346.6,623.7 350.4,620 351.6,619.5 353.3,610.2 357.2,609.9 359.2,608.5 362.5,619.5 364.2,622 366.7,624 370.1,620.3 371.8,617.8 374.3,616.1 377.3,608.2 379.3,613.6 381.8,621.1 384.4,625 386,623.7 388.6,626.2 391.9,637.9 394.4,635.4 396.1,644.6 399.5,634.1 402.8,633.7 407.9,629.5 410.4,629.5 412.9,635.1 415.4,638.4 417.9,637.1 422.1,643 425.5,643 428,635.7 432.2,633.7 435.6,633.7 438.1,635.4 441.4,635.7 443.1,638.4 444.8,632.4 447.3,633.4 451.5,641.3 455.7,637.9 461.6,635.4 464.9,644.6 469.1,653 471.7,646.3 473.3,643 476.7,643 480.9,637.1 483.4,637.9 486.8,635.1 488.1,639.6 491,637.1 493.4,638.4 495.9,641.8 501.8,641.8 503.4,637.1 506,634.1 508.5,636.7 510.5,640.8 513.5,629.5 516.9,627.9 519.4,626.7 521.9,625.3 524.4,623.7 526.9,623.3 530.3,618.6 534.5,613.2 537,617.3 539.5,620.3 542.4,617.3 544.6,622.3 547.1,625 549.6,623.7 552.5,626.7 554.6,623.3 558,624 560.2,625 562.2,622 564.7,622 567.2,626.2 569.2,629.5 572.3,626.7 575.6,626.7 578.1,620 579.8,625.3 582.3,620.3 584.9,617.3 588.2,612.7 590.7,613.2 593.3,619 594.9,617.8 598.3,622 602.2,619 605.8,626.7 608.4,626.7 610.9,625.3 615.1,624 618.4,626.7 621,622 624.3,618.3 626.3,614.4 627.7,620.3 630.2,620.3 633.6,622 635.2,635.7 638.6,633.7 641.1,629.5 644.1,638.8 646.1,637.1 648.7,637.1 651.2,632.9 653.7,627.3 656.2,622 658.7,622 661.3,612.7 663.8,608.5 667.1,610.2 669.7,616.1 672.2,611.9 674.7,610.2 677.2,611.6 679.7,607.7 682.2,605.2 686.4,602.2 689.8,611.9 693.5,624 696.5,620.6 699.9,623.3 702.4,624 703.2,621.6 704.6,631.7 707.4,628.4 711.6,633.7 722.5,633.7 725.1,629.5 727.1,625 729.8,625 732.6,629 736,629.5 736.3,629.5 737,645.8 740,647.5 743.1,650.5 744.2,639.6 747.6,637.9 751.8,628.4 755.1,627.9 758.2,620.3 761.9,628.7 766.1,636.2 768.6,638.8 770.3,645.8 776.1,640.1 778.7,643 781.2,643.5 784,646.3 785,638.8 787.9,638.4 791.2,634.1 795.8,631.2 798,633.7 802.2,634.1 806.4,638.8 808.9,637.4 810.9,634.1 813.9,635.1 816.9,637.1 819.8,627.3 824,627 826.5,632 829,639.6 831.5,637.4 834.9,645.5 836.6,636.2 839.1,634.1 842.5,638.4 845,637.4 847.2,638.8 850,634.1 852.5,634.1 854.5,630.7 857.6,637.1 860.6,634.1 862.6,634.6 865.1,641.3 868.5,645.5 872.7,656.4 875.7,651.9 877.4,654.7 880.2,651.4 882.8,646.3 885.3,645.8 887.8,641.8 890.3,643 893.7,640.8 895.3,640.1 897.9,640.8 901.2,639.6 902.9,647.5 907.9,647.5 912.1,649.2 916.3,646.3 919.7,646.3 921.4,648 923.9,646.3 926.4,646.3 929.8,650.9 934.8,656.9 939,648.5 941.5,647.5 946.2,637.4 949.1,637.1 953.3,629.5 956.3,630.7 959.1,628.4 960.8,636.2 963.3,629.5 966.7,632.4 968.9,628.4 970.9,626.2 974.3,620.6 978.5,627 981.8,625 982.5,624 985,621.1 986.7,630 989.2,628.4 992.6,625 996,627 1000.1,629.5 1002.7,627.9 1004.8,635.4 1007.7,640.1 1010.2,635.4 1012.7,637.1 1015.3,636.7 1017.8,634.1 1022,636.7 1024.5,640.1 1027,643.5 1030.4,641.3 1032.9,639.6 1036.2,631.2 1039.6,634.1 1043,630.7 1046.3,633.7 1048,635.7 1052.2,625 1056.4,625 1058.6,626.7 1059.8,623.3 1063.1,627 1065.6,625 1068.1,626.2 1071.5,628.7 1073.7,630 1076.5,625 1079.1,624.5 1081.6,621.6 1083.8,625 1085.4,617.3 1088.3,619 1091.7,622 1094.2,621.1 1096.7,617.3 1102.6,617.3 1104.2,619.5 1106.8,610.2 1108.4,622 1110.6,634.1 1113.5,634.1 1117.7,630 1121,629.5 1124.4,625.3 1127.8,623.7 1129.1,632.9 1131.9,632.9 1135.3,634.1 1137.8,632 1141.2,630 1146.2,628.7 1147.9,627 1150.1,632.9 1152.1,626.7 1155.5,625 1158,626.2 1160.5,625 1163,630 1165.5,634.6 1169.7,650.9 1173.1,647.2 1176.1,643 1177.3,651.4 1179.8,638.8 1183.2,635.7 1185.7,638.8 1188.2,633.4 1191.6,630.4 1194.1,627.9 1195.2,631.2 1198.3,626.7 1201.6,627.9 1205.8,621.6 1209.2,633.4" fill="none" stroke="#4a84bd" stroke-width="2.1" stroke-linejoin="round"/>
</g>
<line x1="1402.2" y1="581" x2="1402.2" y2="667" stroke="#555" stroke-width="1.8"/>
<rect x="1401" y="621.3" width="77" height="24" fill="#0d5394"/>
<line x1="1402" y1="633.2" x2="1406.5" y2="633.2" stroke="#fff" stroke-width="1.2"/>
<text class="lb" x="1412.5" y="640">47.2305</text>
<rect x="0" y="665.2" width="1403" height="1.8" fill="#555"/>
<line x1="1488.3" y1="0" x2="1488.3" y2="667" stroke="#d8d8d8" stroke-width="1"/>
</svg></body></html>
